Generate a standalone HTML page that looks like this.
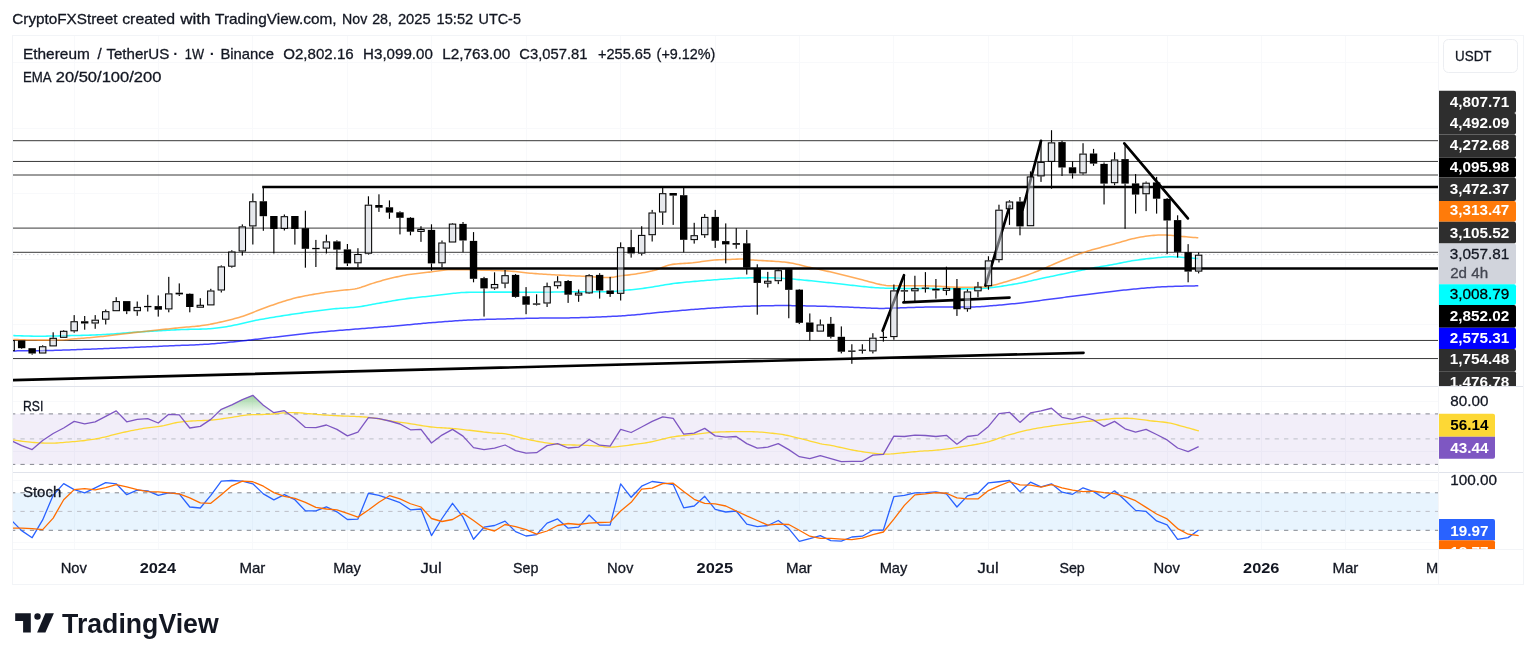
<!DOCTYPE html>
<html lang="en">
<head>
<meta charset="utf-8">
<title>ETHUSDT 1W chart</title>
<style>
html,body{margin:0;padding:0;background:#fff;}
body{width:1536px;height:662px;overflow:hidden;font-family:"Liberation Sans",sans-serif;}
svg{display:block;}
text{white-space:pre;}
</style>
</head>
<body>
<svg width="1536" height="662" viewBox="0 0 1536 662" font-family='"Liberation Sans", sans-serif'>
<defs>
<clipPath id="cm"><rect x="13" y="36" width="1425" height="350.5"/></clipPath>
<clipPath id="cr"><rect x="13" y="386.5" width="1425" height="86"/></clipPath>
<clipPath id="cs"><rect x="13" y="472.5" width="1425" height="76.5"/></clipPath>
<clipPath id="ca1"><rect x="1438" y="36" width="85" height="350.5"/></clipPath>
<clipPath id="ca3"><rect x="1438" y="472.5" width="85" height="76.5"/></clipPath>
<clipPath id="ct"><rect x="13" y="549" width="1425" height="35"/></clipPath>
<linearGradient id="gg" x1="0" y1="0" x2="0" y2="1"><stop offset="0" stop-color="#4caf50" stop-opacity="0.55"/><stop offset="1" stop-color="#4caf50" stop-opacity="0.04"/></linearGradient>
</defs>
<rect width="1536" height="662" fill="#ffffff"/>
<g id="header">
<text x="12.3" y="24.4" font-size="15" stroke="#131722" stroke-width="0.3" fill="#131722" textLength="105.2" lengthAdjust="spacingAndGlyphs">CryptoFXStreet</text>
<text x="122.2" y="24.4" font-size="15" stroke="#131722" stroke-width="0.3" fill="#131722" textLength="52.9" lengthAdjust="spacingAndGlyphs">created</text>
<text x="180.2" y="24.4" font-size="15" stroke="#131722" stroke-width="0.3" fill="#131722" textLength="30.4" lengthAdjust="spacingAndGlyphs">with</text>
<text x="215.1" y="24.4" font-size="15" stroke="#131722" stroke-width="0.3" fill="#131722" textLength="121.5" lengthAdjust="spacingAndGlyphs">TradingView.com,</text>
<text x="342.1" y="24.4" font-size="15" stroke="#131722" stroke-width="0.3" fill="#131722" textLength="25.2" lengthAdjust="spacingAndGlyphs">Nov</text>
<text x="372.2" y="24.4" font-size="15" stroke="#131722" stroke-width="0.3" fill="#131722" textLength="19.8" lengthAdjust="spacingAndGlyphs">28,</text>
<text x="397.9" y="24.4" font-size="15" stroke="#131722" stroke-width="0.3" fill="#131722" textLength="32.8" lengthAdjust="spacingAndGlyphs">2025</text>
<text x="436.6" y="24.4" font-size="15" stroke="#131722" stroke-width="0.3" fill="#131722" textLength="36.6" lengthAdjust="spacingAndGlyphs">15:52</text>
<text x="478.5" y="24.4" font-size="15" stroke="#131722" stroke-width="0.3" fill="#131722" textLength="42.4" lengthAdjust="spacingAndGlyphs">UTC-5</text>
</g>
<g id="grid" shape-rendering="crispEdges">
<rect x="74" y="36" width="1" height="513" fill="#f8f9fb"/>
<rect x="158" y="36" width="1" height="513" fill="#f8f9fb"/>
<rect x="252" y="36" width="1" height="513" fill="#f8f9fb"/>
<rect x="347" y="36" width="1" height="513" fill="#f8f9fb"/>
<rect x="431" y="36" width="1" height="513" fill="#f8f9fb"/>
<rect x="526" y="36" width="1" height="513" fill="#f8f9fb"/>
<rect x="620" y="36" width="1" height="513" fill="#f8f9fb"/>
<rect x="715" y="36" width="1" height="513" fill="#f8f9fb"/>
<rect x="799" y="36" width="1" height="513" fill="#f8f9fb"/>
<rect x="893" y="36" width="1" height="513" fill="#f8f9fb"/>
<rect x="988" y="36" width="1" height="513" fill="#f8f9fb"/>
<rect x="1072" y="36" width="1" height="513" fill="#f8f9fb"/>
<rect x="1167" y="36" width="1" height="513" fill="#f8f9fb"/>
<rect x="1261" y="36" width="1" height="513" fill="#f8f9fb"/>
<rect x="1345" y="36" width="1" height="513" fill="#f8f9fb"/>
<rect x="13" y="62" width="1425" height="1" fill="#f8f9fb"/>
<rect x="13" y="128" width="1425" height="1" fill="#f8f9fb"/>
<rect x="13" y="193" width="1425" height="1" fill="#f8f9fb"/>
<rect x="13" y="259" width="1425" height="1" fill="#f8f9fb"/>
<rect x="13" y="324" width="1425" height="1" fill="#f8f9fb"/>
<rect x="13" y="401" width="1425" height="1" fill="#f8f9fb"/>
<rect x="13" y="451" width="1425" height="1" fill="#f8f9fb"/>
<rect x="13" y="480" width="1425" height="1" fill="#f8f9fb"/>
<rect x="13" y="542" width="1425" height="1" fill="#f8f9fb"/>
</g>
<g id="rsi" clip-path="url(#cr)">
<rect x="13" y="413.9" width="1425" height="50.5" fill="#7e57c2" fill-opacity="0.1"/>
<line x1="11" y1="413.9" x2="1438" y2="413.9" stroke="#83868f" stroke-width="1" stroke-dasharray="4.3 5.13"/>
<line x1="11" y1="438.9" x2="1438" y2="438.9" stroke="#bcbfc7" stroke-width="1" stroke-dasharray="4.3 5.13"/>
<line x1="11" y1="464.4" x2="1438" y2="464.4" stroke="#83868f" stroke-width="1" stroke-dasharray="4.3 5.13"/>
<polygon points="200.29,413.9 200.29,413.9 210.8,413.9 221.31,409.3 231.82,404.8 242.33,399.6 252.84,395.3 263.35,405.2 273.85,412.7 284.36,410.7 284.36,413.9" fill="url(#gg)"/>
<polyline points="13.1,439.9 14.41,440.09 16.12,440.34 18.16,440.65 20.44,440.99 22.87,441.33 25.39,441.66 27.89,441.96 30.3,442.2 32.22,442.36 34.21,442.52 36.27,442.66 38.36,442.79 40.47,442.91 42.57,443.01 44.65,443.09 46.67,443.15 48.63,443.19 50.5,443.2 52.69,443.18 54.76,443.11 56.75,443 58.68,442.87 60.59,442.71 62.52,442.55 64.52,442.37 66.6,442.2 68.54,442.05 70.54,441.89 72.59,441.72 74.66,441.54 76.74,441.36 78.81,441.16 80.86,440.95 82.86,440.73 84.8,440.5 86.88,440.23 88.88,439.97 90.81,439.7 92.72,439.41 94.65,439.09 96.64,438.74 98.71,438.35 100.9,437.9 102.75,437.49 104.68,437.04 106.66,436.55 108.68,436.03 110.74,435.49 112.82,434.95 114.91,434.41 116.99,433.88 119.06,433.37 121.1,432.9 123.12,432.45 125.14,432 127.16,431.56 129.18,431.13 131.2,430.71 133.22,430.3 135.24,429.91 137.26,429.52 139.28,429.15 141.3,428.8 143.34,428.47 145.41,428.17 147.49,427.89 149.58,427.62 151.66,427.37 153.72,427.12 155.74,426.86 157.72,426.59 159.65,426.31 161.5,426 163.72,425.57 165.86,425.1 167.93,424.61 169.93,424.11 171.89,423.62 173.81,423.16 175.71,422.75 177.6,422.4 179.67,422.08 181.6,421.83 183.46,421.63 185.34,421.46 187.29,421.31 189.38,421.16 191.7,421 193.47,420.89 195.35,420.8 197.31,420.72 199.34,420.65 201.42,420.58 203.53,420.5 205.65,420.41 207.76,420.3 209.85,420.17 211.9,420 213.94,419.8 216.01,419.56 218.09,419.31 220.18,419.03 222.26,418.74 224.32,418.44 226.34,418.14 228.32,417.85 230.25,417.57 232.1,417.3 234.28,416.97 236.32,416.64 238.26,416.3 240.15,415.97 242.04,415.65 243.98,415.37 246.02,415.11 248.2,414.9 250.06,414.77 252.01,414.68 254.02,414.62 256.08,414.58 258.17,414.55 260.27,414.53 262.36,414.5 264.42,414.46 266.44,414.39 268.4,414.3 270.54,414.16 272.67,413.98 274.79,413.77 276.89,413.56 278.95,413.34 280.96,413.14 282.92,412.95 284.8,412.8 286.6,412.7 289.03,412.61 291.17,412.57 293.18,412.59 295.21,412.65 297.43,412.75 300,412.9 301.74,413.02 303.6,413.17 305.56,413.34 307.59,413.53 309.67,413.74 311.79,413.95 313.93,414.15 316.05,414.35 318.15,414.54 320.2,414.7 322.18,414.84 324.11,414.98 326.01,415.1 327.9,415.21 329.8,415.32 331.74,415.43 333.75,415.54 335.85,415.66 338.06,415.77 340.4,415.9 342.18,415.99 344.06,416.07 346.02,416.15 348.05,416.22 350.13,416.29 352.24,416.37 354.38,416.44 356.51,416.53 358.64,416.62 360.75,416.73 362.81,416.84 364.82,416.98 366.75,417.13 368.6,417.3 370.85,417.55 373.03,417.84 375.14,418.17 377.2,418.51 379.21,418.88 381.18,419.25 383.13,419.62 385.05,419.99 386.97,420.35 388.88,420.69 390.8,421 392.9,421.31 394.97,421.61 397.01,421.89 399.02,422.17 401.02,422.43 403.02,422.69 405,422.96 406.99,423.23 408.99,423.51 411,423.8 413.02,424.11 415.04,424.44 417.06,424.79 419.08,425.14 421.1,425.49 423.12,425.83 425.14,426.16 427.16,426.47 429.18,426.75 431.2,427 433.22,427.21 435.24,427.38 437.26,427.53 439.28,427.66 441.31,427.77 443.33,427.88 445.35,427.99 447.37,428.1 449.38,428.24 451.4,428.4 453.41,428.58 455.42,428.77 457.43,428.97 459.44,429.18 461.45,429.39 463.46,429.6 465.47,429.83 467.48,430.05 469.49,430.27 471.5,430.5 473.54,430.73 475.63,430.98 477.74,431.24 479.86,431.51 481.97,431.77 484.05,432.03 486.08,432.27 488.04,432.5 489.92,432.72 491.7,432.9 494.03,433.09 496.14,433.19 498.11,433.26 500,433.32 501.88,433.42 503.82,433.6 505.9,433.9 507.79,434.27 509.7,434.73 511.62,435.25 513.58,435.81 515.58,436.39 517.64,436.98 519.78,437.56 522,438.1 523.85,438.52 525.78,438.95 527.76,439.39 529.78,439.83 531.84,440.26 533.92,440.69 536.01,441.1 538.09,441.49 540.16,441.86 542.2,442.2 544.22,442.52 546.24,442.82 548.26,443.1 550.28,443.37 552.31,443.62 554.33,443.85 556.35,444.07 558.37,444.26 560.38,444.44 562.4,444.6 564.43,444.73 566.47,444.83 568.52,444.9 570.57,444.95 572.62,444.99 574.65,445.02 576.66,445.05 578.65,445.08 580.6,445.13 582.5,445.2 584.86,445.31 587.23,445.42 589.58,445.55 591.88,445.68 594.09,445.81 596.21,445.94 598.18,446.07 600,446.2 602.33,446.45 604.09,446.75 605.69,447.03 607.55,447.2 610.1,447.2 611.71,447.11 613.49,446.98 615.42,446.8 617.45,446.59 619.57,446.35 621.74,446.09 623.92,445.82 626.1,445.54 628.23,445.27 630.3,445 632.31,444.74 634.31,444.48 636.3,444.22 638.28,443.96 640.27,443.68 642.28,443.39 644.29,443.08 646.33,442.75 648.4,442.39 650.5,442 652.46,441.6 654.47,441.16 656.52,440.68 658.6,440.17 660.69,439.65 662.77,439.13 664.85,438.61 666.89,438.12 668.89,437.67 670.83,437.26 672.7,436.9 674.88,436.54 676.96,436.25 678.96,436.02 680.91,435.82 682.84,435.65 684.76,435.48 686.72,435.31 688.72,435.12 690.8,434.9 692.73,434.67 694.71,434.42 696.71,434.16 698.73,433.89 700.77,433.62 702.82,433.36 704.87,433.11 706.93,432.88 708.97,432.68 711,432.5 712.99,432.35 714.94,432.22 716.87,432.11 718.79,432.02 720.73,431.94 722.69,431.87 724.7,431.82 726.78,431.77 728.94,431.73 731.2,431.7 733.04,431.68 734.96,431.66 736.96,431.64 739.02,431.63 741.11,431.62 743.23,431.62 745.37,431.63 747.49,431.65 749.58,431.67 751.64,431.71 753.64,431.76 755.56,431.82 757.4,431.9 759.71,432.03 761.99,432.19 764.22,432.38 766.4,432.59 768.51,432.81 770.54,433.04 772.47,433.27 774.3,433.5 776.02,433.71 777.6,433.9 780.2,434.22 782.18,434.48 783.86,434.75 785.59,435.07 787.7,435.5 789.47,435.88 791.32,436.3 793.25,436.76 795.26,437.26 797.36,437.78 799.54,438.33 801.8,438.9 803.68,439.38 805.69,439.91 807.79,440.47 809.94,441.05 812.1,441.62 814.23,442.19 816.29,442.71 818.22,443.19 820,443.6 822.28,444.06 824.19,444.38 825.92,444.62 827.69,444.86 829.69,445.16 832.1,445.6 833.79,445.95 835.62,446.35 837.56,446.78 839.6,447.25 841.69,447.73 843.83,448.22 845.98,448.7 848.13,449.16 850.24,449.6 852.3,450 854.35,450.37 856.44,450.74 858.55,451.09 860.67,451.43 862.78,451.76 864.86,452.07 866.89,452.37 868.85,452.64 870.73,452.88 872.5,453.1 874.84,453.37 876.99,453.6 879.01,453.78 880.93,453.92 882.8,454.02 884.68,454.08 886.6,454.1 888.8,454.06 890.87,453.95 892.92,453.78 895.06,453.57 897.38,453.34 900,453.1 901.76,452.94 903.67,452.76 905.69,452.57 907.79,452.36 909.93,452.15 912.09,451.94 914.23,451.73 916.31,451.54 918.32,451.36 920.2,451.2 922.35,451.05 924.32,450.94 926.18,450.86 928,450.78 929.85,450.7 931.8,450.58 933.93,450.42 936.3,450.2 938.03,450.02 939.84,449.81 941.73,449.59 943.69,449.36 945.7,449.1 947.76,448.84 949.86,448.56 951.98,448.27 954.11,447.96 956.25,447.65 958.38,447.33 960.5,447 962.47,446.69 964.49,446.37 966.55,446.04 968.64,445.7 970.74,445.36 972.85,445 974.95,444.63 977.03,444.26 979.09,443.87 981.1,443.47 983.07,443.06 984.97,442.64 986.8,442.2 989.06,441.6 991.2,440.97 993.25,440.3 995.22,439.61 997.16,438.91 999.07,438.2 1000.99,437.5 1002.93,436.81 1004.93,436.14 1007,435.5 1008.94,434.94 1010.91,434.38 1012.91,433.82 1014.93,433.27 1016.96,432.73 1019,432.21 1021.04,431.69 1023.09,431.19 1025.14,430.71 1027.17,430.24 1029.2,429.8 1031.23,429.38 1033.26,428.98 1035.31,428.59 1037.36,428.23 1039.41,427.88 1041.45,427.54 1043.48,427.21 1045.5,426.9 1047.49,426.59 1049.46,426.29 1051.4,426 1053.49,425.69 1055.55,425.4 1057.58,425.13 1059.59,424.86 1061.58,424.61 1063.55,424.37 1065.53,424.13 1067.51,423.89 1069.5,423.65 1071.5,423.4 1073.52,423.15 1075.53,422.91 1077.55,422.66 1079.57,422.42 1081.59,422.18 1083.62,421.94 1085.64,421.71 1087.66,421.47 1089.68,421.24 1091.7,421 1093.77,420.76 1095.9,420.5 1098.08,420.24 1100.26,419.98 1102.43,419.72 1104.55,419.48 1106.58,419.25 1108.51,419.04 1110.29,418.85 1111.9,418.7 1114.57,418.49 1116.67,418.37 1118.44,418.33 1120.14,418.31 1122,418.3 1123.86,418.26 1125.56,418.23 1127.33,418.23 1129.43,418.3 1132.1,418.5 1133.73,418.66 1135.56,418.86 1137.55,419.1 1139.65,419.37 1141.82,419.65 1144.03,419.94 1146.22,420.23 1148.36,420.51 1150.4,420.77 1152.3,421 1154.52,421.25 1156.66,421.46 1158.73,421.65 1160.73,421.83 1162.69,422.02 1164.61,422.24 1166.51,422.49 1168.4,422.8 1170.5,423.21 1172.51,423.67 1174.46,424.17 1176.4,424.7 1178.36,425.25 1180.38,425.82 1182.5,426.4 1184.55,426.95 1186.82,427.57 1189.2,428.22 1191.58,428.87 1193.85,429.5 1195.9,430.07 1197.62,430.55 1198.9,430.9" fill="none" stroke="#fdd835" stroke-width="1.3" stroke-linejoin="round"/>
<polyline points="11.13,440.5 21.64,445.6 32.15,449.6 42.66,440.5 53.17,433.5 63.68,428 74.18,421.4 84.69,423.8 95.2,421.8 105.71,416.3 116.22,410.9 126.73,421.8 137.24,419.4 147.75,418.7 158.26,423 168.76,414.3 179.27,414.9 189.78,428 200.29,426.4 210.8,419.4 221.31,409.3 231.82,404.8 242.33,399.6 252.84,395.3 263.35,405.2 273.85,412.7 284.36,410.7 294.87,418.3 305.38,427.4 315.89,427.6 326.4,425 336.91,429.4 347.42,435.9 357.93,432.1 368.43,417.7 378.94,418.7 389.45,421 399.96,424 410.47,429.8 420.98,429.4 431.49,443 442,435.1 452.51,429.4 463.01,436.1 473.52,447.6 484.03,449.6 494.54,448.2 505.05,445 515.56,450.6 526.07,453.1 536.58,452.7 547.09,445.6 557.59,443.6 568.1,448 578.61,447.2 589.12,439.5 599.63,445.2 610.14,446.2 620.65,429.4 631.16,432.5 641.67,427 652.17,421.4 662.68,416.9 673.19,418.3 683.7,434.1 694.21,433.1 704.72,428.4 715.23,435.9 725.74,437.1 736.25,436.5 746.75,443.6 757.26,448.2 767.77,447.2 778.28,443.6 788.79,449.6 799.3,456.7 809.81,458.7 820.32,455.7 830.83,458.7 841.33,461.7 851.84,461.3 862.35,461.3 872.86,455.1 883.37,454.3 893.88,436.1 904.39,436.5 914.9,435.1 925.41,435.5 935.91,436.5 946.42,435.3 956.93,444.2 967.44,436.5 977.95,435.1 988.46,426.4 998.97,413.7 1009.48,412.3 1019.99,422.4 1030.49,412.9 1041,410.9 1051.51,408.25 1062.02,417.3 1072.53,419.4 1083.04,416.3 1093.55,420 1104.06,426.4 1114.57,421.4 1125.07,428.8 1135.58,432.1 1146.09,429.4 1156.6,434.5 1167.11,439.9 1177.62,448 1188.13,451.6 1198.64,446.6" fill="none" stroke="#7e57c2" stroke-width="1.3" stroke-linejoin="round"/>
</g>
<g id="stoch" clip-path="url(#cs)">
<rect x="13" y="492.8" width="1425" height="37.5" fill="#2196f3" fill-opacity="0.1"/>
<line x1="11" y1="492.8" x2="1438" y2="492.8" stroke="#83868f" stroke-width="1" stroke-dasharray="4.3 5.13"/>
<line x1="11" y1="511.4" x2="1438" y2="511.4" stroke="#bcbfc7" stroke-width="1" stroke-dasharray="4.3 5.13"/>
<line x1="11" y1="530.3" x2="1438" y2="530.3" stroke="#83868f" stroke-width="1" stroke-dasharray="4.3 5.13"/>
<polyline points="11.13,519.9 21.64,530.6 32.15,537.7 42.66,519.9 53.17,495.3 63.68,483.6 74.18,489.6 84.69,492.85 95.2,487.8 105.71,482.6 116.22,483.8 126.73,494.7 137.24,490.2 147.75,490.8 158.26,495.3 168.76,492.85 179.27,493.9 189.78,507 200.29,508 210.8,495.3 221.31,481.1 231.82,480.5 242.33,481.1 252.84,483.8 263.35,493.9 273.85,499.9 284.36,494.7 294.87,499.7 305.38,510.8 315.89,510.8 326.4,506.8 336.91,511.8 347.42,519.5 357.93,519.1 368.43,493.25 378.94,495.3 389.45,498.9 399.96,502.7 410.47,509.8 420.98,509 431.49,535.6 442,518.5 452.51,503.3 463.01,517.1 473.52,539.3 484.03,527.2 494.54,525.5 505.05,521.1 515.56,531.6 526.07,536 536.58,534.6 547.09,523.1 557.59,518.9 568.1,528.2 578.61,527.2 589.12,515 599.63,525.1 610.14,525.1 620.65,483.8 631.16,497.3 641.67,486.2 652.17,481.5 662.68,482.8 673.19,484.6 683.7,507.8 694.21,506 704.72,496.3 715.23,509.4 725.74,512 736.25,511 746.75,524.1 757.26,526.55 767.77,525.5 778.28,520.5 788.79,528.6 799.3,541.3 809.81,538.7 820.32,535.6 830.83,540.7 841.33,541.1 851.84,537 862.35,536.2 872.86,530.2 883.37,530 893.88,496.7 904.39,495.3 914.9,492.85 925.41,492.6 935.91,491.8 946.42,493.9 956.93,507 967.44,495.9 977.95,493.25 988.46,482.8 998.97,481.75 1009.48,480.5 1019.99,491.8 1030.49,482.15 1041,486.8 1051.51,483.8 1062.02,492.2 1072.53,494.3 1083.04,487.8 1093.55,491.6 1104.06,498.3 1114.57,490.8 1125.07,500.3 1135.58,510.4 1146.09,511.4 1156.6,520.9 1167.11,524.9 1177.62,539.3 1188.13,537.65 1198.64,530" fill="none" stroke="#2962ff" stroke-width="1.3" stroke-linejoin="round"/>
<polyline points="11.13,528 21.64,528.2 32.15,528.6 42.66,529.6 53.17,518.1 63.68,499.7 74.18,489.6 84.69,488.6 95.2,489.8 105.71,487.6 116.22,484.6 126.73,486.8 137.24,489.6 147.75,491.6 158.26,491.8 168.76,492.85 179.27,493.9 189.78,497.9 200.29,502.9 210.8,503.3 221.31,494.7 231.82,485.8 242.33,481.1 252.84,481.75 263.35,486.2 273.85,492.6 284.36,496.3 294.87,498.3 305.38,502.3 315.89,507.4 326.4,509 336.91,509.8 347.42,513.4 357.93,517.1 368.43,510 378.94,502.3 389.45,495.7 399.96,498.9 410.47,503.75 420.98,507 431.49,518.5 442,521.5 452.51,519.5 463.01,513.4 473.52,520.5 484.03,528.2 494.54,531 505.05,524.5 515.56,526.55 526.07,529.6 536.58,534.2 547.09,531 557.59,525.5 568.1,523.5 578.61,524.5 589.12,523.1 599.63,522.5 610.14,522.1 620.65,511 631.16,502.3 641.67,489.2 652.17,488.2 662.68,483.6 673.19,483.2 683.7,491.6 694.21,499.3 704.72,503.3 715.23,503.95 725.74,506 736.25,511 746.75,515.9 757.26,520.5 767.77,525.1 778.28,524.1 788.79,524.5 799.3,530.2 809.81,536.2 820.32,538.3 830.83,538.3 841.33,539.1 851.84,539.7 862.35,538.1 872.86,534.6 883.37,532 893.88,519.1 904.39,505.4 914.9,494.9 925.41,493.9 935.91,492.6 946.42,493.25 956.93,497.9 967.44,498.9 977.95,498.9 988.46,490.6 998.97,485.8 1009.48,481.75 1019.99,484.8 1030.49,485.2 1041,487.2 1051.51,484.6 1062.02,487.8 1072.53,490.2 1083.04,491.6 1093.55,491.2 1104.06,492.6 1114.57,493.7 1125.07,496.7 1135.58,500.7 1146.09,507.4 1156.6,514 1167.11,518.9 1177.62,528.6 1188.13,534.2 1198.64,535.6" fill="none" stroke="#ff6d00" stroke-width="1.3" stroke-linejoin="round"/>
</g>
<g id="main" clip-path="url(#cm)">
<line x1="13" y1="254.6" x2="1438" y2="254.6" stroke="#d4d6dc" stroke-width="1" stroke-dasharray="1.5 2.5"/>
<line x1="13" y1="140.7" x2="1438" y2="140.7" stroke="#000" stroke-opacity="0.78" stroke-width="1"/>
<line x1="13" y1="161.45" x2="1438" y2="161.45" stroke="#000" stroke-opacity="0.78" stroke-width="1"/>
<line x1="13" y1="175" x2="1438" y2="175" stroke="#000" stroke-opacity="0.78" stroke-width="1"/>
<line x1="13" y1="228.1" x2="1438" y2="228.1" stroke="#000" stroke-opacity="0.78" stroke-width="1"/>
<line x1="13" y1="252.3" x2="1438" y2="252.3" stroke="#000" stroke-opacity="0.78" stroke-width="1"/>
<line x1="13" y1="340.45" x2="1438" y2="340.45" stroke="#000" stroke-opacity="0.78" stroke-width="1"/>
<line x1="13" y1="358.55" x2="1438" y2="358.55" stroke="#000" stroke-opacity="0.78" stroke-width="1"/>
<polyline points="13.3,350.9 14.46,350.89 15.84,350.88 17.42,350.86 19.17,350.85 21.08,350.84 23.13,350.82 25.29,350.81 27.55,350.79 29.89,350.77 32.28,350.75 34.72,350.72 37.17,350.7 39.62,350.66 42.04,350.63 44.43,350.59 46.76,350.55 49,350.5 50.97,350.45 52.97,350.4 54.97,350.35 56.99,350.29 59.03,350.23 61.07,350.16 63.13,350.1 65.19,350.03 67.26,349.96 69.33,349.88 71.41,349.81 73.49,349.73 75.57,349.66 77.65,349.58 79.73,349.5 81.81,349.43 83.88,349.35 85.94,349.27 88,349.2 90.05,349.13 92.11,349.05 94.16,348.98 96.21,348.9 98.26,348.82 100.32,348.75 102.37,348.67 104.42,348.59 106.47,348.51 108.53,348.44 110.58,348.36 112.63,348.28 114.68,348.2 116.74,348.11 118.79,348.03 120.84,347.95 122.89,347.87 124.95,347.78 127,347.7 129.05,347.62 131.08,347.53 133.11,347.45 135.12,347.36 137.14,347.27 139.15,347.19 141.15,347.1 143.16,347.01 145.18,346.93 147.2,346.84 149.23,346.75 151.26,346.66 153.31,346.57 155.38,346.47 157.46,346.38 159.56,346.29 161.68,346.19 163.83,346.1 166,346 167.9,345.92 169.83,345.84 171.79,345.76 173.76,345.68 175.76,345.6 177.77,345.53 179.8,345.45 181.84,345.37 183.89,345.3 185.94,345.22 188,345.14 190.06,345.05 192.11,344.97 194.16,344.88 196.2,344.79 198.23,344.69 200.24,344.59 202.24,344.48 204.21,344.37 206.17,344.25 208.1,344.13 210,344 212.13,343.84 214.17,343.69 216.13,343.53 218.03,343.37 219.88,343.21 221.7,343.04 223.49,342.87 225.29,342.69 227.09,342.5 228.92,342.31 230.79,342.11 232.71,341.9 234.71,341.68 236.79,341.45 238.97,341.2 241.27,340.95 243.7,340.68 246.27,340.4 249,340.1 250.59,339.93 252.23,339.74 253.9,339.56 255.61,339.36 257.36,339.16 259.14,338.95 260.95,338.74 262.8,338.52 264.67,338.3 266.58,338.07 268.51,337.84 270.47,337.61 272.45,337.37 274.45,337.14 276.47,336.89 278.52,336.65 280.58,336.41 282.66,336.16 284.75,335.91 286.86,335.67 288.98,335.42 291.11,335.17 293.26,334.93 295.4,334.69 297.56,334.44 299.72,334.2 301.88,333.96 304.05,333.73 306.21,333.5 308.38,333.27 310.54,333.05 312.7,332.83 314.85,332.61 317,332.4 318.94,332.21 320.91,332.03 322.93,331.84 324.98,331.66 327.05,331.47 329.16,331.28 331.29,331.1 333.45,330.91 335.62,330.73 337.81,330.54 340.02,330.36 342.23,330.18 344.46,329.99 346.69,329.81 348.92,329.63 351.16,329.45 353.39,329.28 355.61,329.1 357.83,328.93 360.04,328.75 362.23,328.58 364.41,328.41 366.56,328.24 368.7,328.07 370.81,327.91 372.89,327.75 374.94,327.59 376.96,327.43 378.95,327.27 380.89,327.12 382.79,326.97 384.65,326.82 386.46,326.68 388.22,326.54 389.92,326.4 391.58,326.26 393.17,326.13 394.7,326 397.74,325.74 400.54,325.49 403.11,325.26 405.5,325.05 407.71,324.84 409.77,324.65 411.7,324.46 413.52,324.29 415.27,324.12 416.95,323.96 418.6,323.8 420.23,323.64 421.87,323.49 423.55,323.33 425.27,323.18 427.08,323.02 428.98,322.86 431,322.7 432.99,322.54 434.99,322.38 437.01,322.22 439.03,322.07 441.07,321.91 443.12,321.75 445.17,321.6 447.23,321.44 449.3,321.29 451.37,321.15 453.44,321 455.52,320.86 457.59,320.72 459.67,320.59 461.74,320.46 463.81,320.34 465.88,320.22 467.94,320.11 470,320 472.06,319.9 474.14,319.81 476.24,319.72 478.35,319.64 480.47,319.56 482.59,319.49 484.71,319.43 486.83,319.36 488.95,319.3 491.05,319.25 493.14,319.19 495.22,319.14 497.28,319.09 499.31,319.04 501.31,318.99 503.29,318.95 505.23,318.9 507.14,318.85 509,318.8 511.3,318.74 513.55,318.68 515.74,318.62 517.89,318.56 520,318.51 522.07,318.46 524.11,318.41 526.13,318.36 528.13,318.32 530.11,318.28 532.09,318.24 534.06,318.2 536.03,318.16 538.01,318.13 540,318.1 542.11,318.07 544.16,318.05 546.17,318.04 548.14,318.04 550.09,318.04 552.04,318.04 554,318.04 555.98,318.04 557.99,318.03 560.04,318.02 562.16,318.01 564.35,317.98 566.63,317.95 569,317.9 570.83,317.86 572.75,317.81 574.73,317.76 576.78,317.71 578.88,317.65 581.02,317.58 583.19,317.52 585.38,317.45 587.59,317.38 589.79,317.31 591.98,317.23 594.16,317.16 596.3,317.08 598.41,317 600.47,316.92 602.46,316.84 604.39,316.76 606.24,316.68 608,316.6 610.43,316.48 612.71,316.37 614.88,316.25 616.95,316.14 618.94,316.02 620.86,315.89 622.73,315.77 624.58,315.64 626.41,315.5 628.25,315.36 630.12,315.22 632.03,315.06 634,314.9 635.97,314.73 637.89,314.56 639.77,314.38 641.62,314.19 643.48,314 645.34,313.8 647.23,313.6 649.17,313.39 651.18,313.18 653.27,312.97 655.46,312.75 657.76,312.53 660.2,312.3 661.96,312.14 663.81,311.98 665.74,311.8 667.73,311.63 669.78,311.45 671.88,311.27 674.02,311.08 676.18,310.89 678.37,310.71 680.57,310.52 682.77,310.33 684.96,310.15 687.13,309.97 689.28,309.79 691.39,309.62 693.46,309.46 695.47,309.3 697.42,309.14 699.3,309 701.6,308.83 703.85,308.66 706.05,308.5 708.21,308.35 710.33,308.2 712.41,308.06 714.46,307.92 716.47,307.79 718.46,307.67 720.43,307.54 722.37,307.43 724.3,307.32 726.21,307.21 728.11,307.1 730,307 732.14,306.89 734.19,306.79 736.19,306.69 738.13,306.6 740.04,306.52 741.94,306.44 743.83,306.36 745.73,306.3 747.67,306.23 749.65,306.17 751.68,306.11 753.8,306.05 756,306 757.83,305.96 759.67,305.91 761.52,305.87 763.39,305.82 765.27,305.78 767.18,305.74 769.12,305.71 771.09,305.68 773.1,305.65 775.15,305.62 777.25,305.6 779.4,305.59 781.6,305.58 783.87,305.58 786.2,305.59 788.6,305.6 790.4,305.62 792.27,305.64 794.19,305.66 796.16,305.69 798.18,305.72 800.23,305.76 802.32,305.79 804.44,305.84 806.57,305.88 808.73,305.93 810.9,305.98 813.08,306.03 815.25,306.08 817.42,306.13 819.59,306.19 821.73,306.25 823.86,306.3 825.96,306.36 828.03,306.42 830.07,306.48 832.06,306.54 834,306.6 836.24,306.67 838.51,306.75 840.81,306.83 843.12,306.92 845.43,307.01 847.74,307.11 850.04,307.21 852.31,307.3 854.55,307.4 856.74,307.5 858.88,307.59 860.96,307.69 862.97,307.78 864.9,307.86 866.74,307.94 868.48,308.02 870.11,308.09 871.62,308.15 873,308.2 876.93,308.34 879.22,308.41 880.66,308.44 881.99,308.43 884,308.4 885.79,308.37 887.53,308.32 889.31,308.26 891.24,308.18 893.43,308.09 895.98,308 899,307.9 900.59,307.85 902.27,307.79 904.05,307.73 905.91,307.67 907.85,307.6 909.86,307.53 911.94,307.45 914.07,307.38 916.26,307.31 918.48,307.25 920.74,307.19 923.03,307.13 925.34,307.08 927.67,307.03 930,307 931.89,306.98 933.86,306.97 935.91,306.96 938.03,306.96 940.19,306.96 942.39,306.97 944.61,306.98 946.85,306.99 949.09,307 951.33,307.01 953.54,307.02 955.71,307.03 957.85,307.04 959.92,307.05 961.92,307.05 963.84,307.05 965.67,307.04 967.4,307.02 969,307 971.96,306.94 974.41,306.89 976.5,306.82 978.34,306.74 980.08,306.64 981.84,306.53 983.76,306.38 985.97,306.21 988.6,306 990.26,305.87 991.99,305.73 993.79,305.58 995.65,305.42 997.56,305.25 999.52,305.07 1001.53,304.89 1003.59,304.7 1005.68,304.5 1007.8,304.29 1009.96,304.08 1012.14,303.86 1014.33,303.63 1016.55,303.39 1018.77,303.15 1021,302.9 1022.9,302.68 1024.83,302.45 1026.79,302.22 1028.78,301.97 1030.79,301.72 1032.83,301.46 1034.88,301.19 1036.96,300.92 1039.04,300.65 1041.14,300.37 1043.24,300.1 1045.35,299.82 1047.46,299.54 1049.57,299.26 1051.67,298.98 1053.77,298.7 1055.86,298.43 1057.94,298.16 1060,297.9 1062.06,297.64 1064.14,297.37 1066.24,297.11 1068.35,296.84 1070.47,296.57 1072.59,296.3 1074.71,296.03 1076.83,295.76 1078.95,295.49 1081.05,295.22 1083.14,294.96 1085.22,294.7 1087.28,294.44 1089.31,294.19 1091.31,293.94 1093.29,293.69 1095.23,293.46 1097.14,293.22 1099,293 1101.3,292.72 1103.53,292.46 1105.7,292.2 1107.81,291.94 1109.89,291.7 1111.93,291.46 1113.94,291.22 1115.93,291 1117.91,290.77 1119.89,290.55 1121.87,290.34 1123.86,290.12 1125.88,289.91 1127.92,289.71 1130,289.5 1131.96,289.31 1133.92,289.12 1135.88,288.93 1137.83,288.74 1139.78,288.56 1141.74,288.37 1143.7,288.2 1145.67,288.02 1147.65,287.85 1149.64,287.69 1151.65,287.53 1153.67,287.38 1155.72,287.24 1157.79,287.1 1159.88,286.97 1162,286.85 1163.96,286.75 1166.04,286.66 1168.22,286.57 1170.47,286.49 1172.78,286.41 1175.13,286.34 1177.48,286.28 1179.83,286.22 1182.15,286.16 1184.42,286.11 1186.62,286.06 1188.73,286.01 1190.73,285.97 1192.59,285.93 1194.3,285.9 1195.84,285.86 1197.18,285.83 1198.3,285.8" fill="none" stroke="#0000ff" stroke-opacity="0.72" stroke-width="1.5"/>
<polyline points="13.3,335.6 14.5,335.64 16,335.69 17.76,335.75 19.74,335.82 21.9,335.89 24.18,335.96 26.55,336.03 28.96,336.09 31.36,336.14 33.73,336.18 36,336.2 37.86,336.2 39.69,336.2 41.51,336.19 43.33,336.17 45.17,336.15 47.03,336.12 48.94,336.09 50.9,336.05 52.93,336.01 55.04,335.96 57.25,335.91 59.56,335.86 62,335.8 63.75,335.76 65.56,335.72 67.43,335.68 69.36,335.64 71.33,335.6 73.35,335.56 75.41,335.52 77.5,335.47 79.62,335.43 81.76,335.37 83.91,335.32 86.07,335.26 88.24,335.2 90.41,335.13 92.56,335.06 94.71,334.98 96.83,334.89 98.93,334.8 101,334.7 103.05,334.59 105.11,334.47 107.16,334.35 109.21,334.21 111.26,334.07 113.32,333.92 115.37,333.77 117.42,333.61 119.47,333.45 121.53,333.29 123.58,333.12 125.63,332.96 127.68,332.8 129.74,332.64 131.79,332.48 133.84,332.33 135.89,332.18 137.95,332.04 140,331.9 142.06,331.77 144.14,331.64 146.24,331.51 148.35,331.38 150.47,331.25 152.59,331.12 154.71,330.99 156.83,330.87 158.95,330.75 161.05,330.63 163.14,330.51 165.22,330.4 167.28,330.29 169.31,330.18 171.31,330.07 173.29,329.97 175.23,329.88 177.14,329.79 179,329.7 181.32,329.6 183.61,329.52 185.88,329.45 188.11,329.39 190.31,329.34 192.47,329.3 194.6,329.26 196.68,329.22 198.73,329.17 200.73,329.12 202.68,329.06 204.59,329 206.44,328.91 208.25,328.82 210,328.7 212.48,328.5 214.76,328.29 216.89,328.07 218.9,327.82 220.83,327.56 222.73,327.28 224.62,326.97 226.56,326.64 228.57,326.29 230.7,325.9 232.71,325.51 234.74,325.09 236.79,324.64 238.87,324.16 240.96,323.66 243.08,323.15 245.22,322.64 247.38,322.13 249.56,321.64 251.77,321.16 254,320.7 255.91,320.33 257.85,319.96 259.82,319.6 261.8,319.24 263.8,318.89 265.82,318.54 267.85,318.2 269.88,317.86 271.91,317.52 273.94,317.18 275.97,316.85 277.99,316.52 280,316.2 282,315.88 284,315.56 286,315.25 288,314.94 290,314.63 292,314.33 294,314.03 296,313.73 298,313.44 300,313.15 302,312.86 304,312.58 306,312.3 308,312.02 310.01,311.75 312.02,311.47 314.03,311.2 316.05,310.93 318.06,310.66 320.07,310.4 322.07,310.15 324.07,309.9 326.07,309.66 328.06,309.43 330.03,309.21 332,309 334.13,308.79 336.26,308.61 338.39,308.45 340.52,308.3 342.64,308.17 344.75,308.03 346.85,307.9 348.93,307.75 350.98,307.6 353.02,307.42 355.02,307.23 357,307 359.1,306.72 361.13,306.43 363.11,306.11 365.05,305.77 366.98,305.42 368.9,305.06 370.83,304.69 372.79,304.32 374.8,303.95 376.86,303.57 379,303.2 380.87,302.88 382.78,302.55 384.73,302.21 386.71,301.87 388.71,301.52 390.73,301.17 392.77,300.82 394.82,300.47 396.87,300.14 398.92,299.81 400.96,299.49 402.99,299.19 405,298.9 407,298.63 409,298.38 411,298.14 413,297.91 415,297.69 417,297.47 419,297.26 421,297.06 423,296.85 425,296.65 427,296.44 429,296.22 431,296 433.04,295.77 435.13,295.52 437.27,295.27 439.43,295.01 441.59,294.75 443.75,294.49 445.87,294.24 447.95,293.99 449.96,293.76 451.89,293.54 453.72,293.34 455.43,293.16 457,293 459.62,292.74 461.33,292.58 462.69,292.47 464.22,292.41 466.48,292.36 470,292.3 471.45,292.28 473.05,292.26 474.79,292.24 476.64,292.22 478.61,292.2 480.67,292.19 482.8,292.17 485,292.16 487.24,292.15 489.52,292.14 491.81,292.13 494.1,292.12 496.39,292.12 498.64,292.11 500.86,292.11 503.02,292.1 505.1,292.1 507.1,292.1 509,292.1 511.3,292.1 513.55,292.11 515.74,292.13 517.89,292.14 520,292.16 522.07,292.18 524.11,292.21 526.13,292.23 528.13,292.25 530.11,292.27 532.09,292.29 534.06,292.3 536.03,292.31 538.01,292.31 540,292.3 542.11,292.28 544.16,292.26 546.17,292.23 548.14,292.2 550.09,292.16 552.04,292.11 554,292.07 555.98,292.02 557.99,291.98 560.04,291.93 562.16,291.89 564.35,291.86 566.63,291.83 569,291.8 570.84,291.79 572.78,291.78 574.8,291.78 576.89,291.78 579.04,291.78 581.24,291.79 583.46,291.8 585.71,291.81 587.96,291.81 590.2,291.82 592.43,291.83 594.62,291.83 596.77,291.83 598.86,291.82 600.88,291.81 602.82,291.8 604.66,291.77 606.39,291.74 608,291.7 611.04,291.59 613.68,291.46 616,291.3 618.09,291.13 620.02,290.94 621.86,290.74 623.71,290.53 625.63,290.32 627.7,290.1 629.84,289.89 631.92,289.67 633.97,289.46 636.02,289.23 638.1,288.99 640.23,288.73 642.43,288.45 644.75,288.14 647.2,287.8 648.99,287.53 650.84,287.24 652.75,286.93 654.72,286.6 656.72,286.25 658.76,285.9 660.82,285.54 662.9,285.19 664.98,284.84 667.06,284.5 669.13,284.18 671.18,283.88 673.2,283.6 675.19,283.35 677.16,283.11 679.12,282.88 681.07,282.67 683.02,282.47 684.98,282.28 686.94,282.09 688.92,281.91 690.93,281.73 692.96,281.55 695.03,281.37 697.14,281.19 699.3,281 701.25,280.83 703.3,280.67 705.43,280.5 707.62,280.32 709.85,280.15 712.1,279.98 714.35,279.81 716.58,279.65 718.77,279.49 720.91,279.34 722.96,279.19 724.92,279.05 726.76,278.92 728.46,278.81 730,278.7 733.04,278.49 735.16,278.33 736.79,278.23 738.36,278.14 740.29,278.07 743,278 744.57,277.96 746.28,277.91 748.11,277.86 750.04,277.82 752.05,277.77 754.13,277.73 756.25,277.69 758.41,277.66 760.57,277.64 762.73,277.63 764.87,277.64 766.96,277.66 769,277.7 770.96,277.75 772.87,277.82 774.73,277.89 776.57,277.98 778.41,278.07 780.25,278.18 782.13,278.3 784.05,278.43 786.04,278.58 788.11,278.73 790.28,278.91 792.57,279.1 795,279.3 796.76,279.45 798.62,279.62 800.57,279.8 802.59,279.99 804.67,280.18 806.8,280.39 808.97,280.61 811.17,280.83 813.39,281.05 815.61,281.28 817.83,281.5 820.03,281.73 822.2,281.96 824.33,282.18 826.41,282.4 828.43,282.61 830.38,282.82 832.24,283.01 834,283.2 836.43,283.46 838.74,283.72 840.94,283.98 843.04,284.23 845.06,284.47 847.01,284.71 848.91,284.94 850.77,285.17 852.6,285.39 854.43,285.6 856.26,285.81 858.11,286.01 860,286.2 862.15,286.42 864.13,286.63 865.99,286.84 867.8,287.03 869.6,287.22 871.47,287.39 873.44,287.56 875.58,287.71 877.95,287.85 880.61,287.98 883.6,288.1 885.17,288.15 886.83,288.2 888.58,288.24 890.41,288.27 892.31,288.31 894.27,288.34 896.28,288.36 898.34,288.39 900.45,288.41 902.59,288.43 904.75,288.45 906.93,288.46 909.12,288.48 911.32,288.49 913.51,288.5 915.69,288.52 917.85,288.53 919.98,288.54 922.08,288.55 924.14,288.56 926.15,288.57 928.11,288.59 930,288.6 932.25,288.62 934.49,288.64 936.73,288.66 938.97,288.69 941.19,288.71 943.39,288.74 945.58,288.76 947.74,288.78 949.87,288.8 951.98,288.82 954.05,288.84 956.09,288.85 958.08,288.86 960.03,288.86 961.94,288.86 963.79,288.86 965.58,288.84 967.32,288.83 969,288.8 971.7,288.75 974.15,288.7 976.39,288.64 978.48,288.58 980.45,288.5 982.35,288.4 984.24,288.28 986.15,288.13 988.13,287.96 990.23,287.75 992.5,287.5 994.39,287.28 996.33,287.02 998.32,286.75 1000.35,286.46 1002.41,286.14 1004.5,285.81 1006.59,285.47 1008.7,285.11 1010.8,284.75 1012.89,284.38 1014.97,284.01 1017.02,283.64 1019.03,283.27 1021,282.9 1023.05,282.51 1025.01,282.12 1026.9,281.73 1028.76,281.33 1030.59,280.93 1032.42,280.52 1034.27,280.1 1036.17,279.67 1038.12,279.23 1040.16,278.78 1042.31,278.3 1044.58,277.81 1047,277.3 1048.76,276.93 1050.62,276.54 1052.57,276.14 1054.59,275.71 1056.67,275.28 1058.8,274.84 1060.97,274.38 1063.17,273.93 1065.39,273.47 1067.61,273.01 1069.83,272.55 1072.03,272.1 1074.2,271.66 1076.33,271.22 1078.41,270.8 1080.43,270.4 1082.38,270.01 1084.24,269.64 1086,269.3 1088.43,268.83 1090.74,268.4 1092.93,268 1095.02,267.63 1097.04,267.28 1098.98,266.94 1100.88,266.62 1102.74,266.31 1104.57,266 1106.4,265.69 1108.24,265.37 1110.1,265.04 1112,264.7 1114.06,264.32 1116.09,263.93 1118.09,263.53 1120.07,263.13 1122.04,262.74 1124,262.34 1125.96,261.96 1127.93,261.58 1129.91,261.21 1131.91,260.86 1133.94,260.52 1136,260.2 1137.97,259.92 1140.02,259.64 1142.13,259.37 1144.28,259.11 1146.45,258.85 1148.61,258.61 1150.76,258.38 1152.86,258.16 1154.89,257.96 1156.85,257.77 1158.7,257.59 1160.42,257.44 1162,257.3 1164.86,257.07 1167.1,256.92 1168.98,256.84 1170.76,256.81 1172.68,256.84 1175,256.9 1176.87,256.98 1178.97,257.09 1181.2,257.24 1183.5,257.42 1185.79,257.6 1187.99,257.78 1190.03,257.95 1191.82,258.09 1193.3,258.2 1196.94,258.43 1198.3,258.5" fill="none" stroke="#00ffff" stroke-opacity="0.85" stroke-width="1.55"/>
<polyline points="13.3,339.5 14.5,339.54 16,339.58 17.76,339.64 19.74,339.71 21.9,339.78 24.18,339.85 26.55,339.92 28.96,339.98 31.36,340.03 33.73,340.07 36,340.1 37.93,340.11 39.95,340.12 42.04,340.13 44.18,340.13 46.35,340.12 48.52,340.11 50.68,340.1 52.8,340.08 54.85,340.05 56.82,340.02 58.68,339.99 60.42,339.95 62,339.9 64.77,339.78 66.81,339.64 68.5,339.48 70.19,339.28 72.23,339.06 75,338.8 76.54,338.67 78.15,338.55 79.85,338.42 81.62,338.29 83.46,338.15 85.38,338 87.38,337.85 89.46,337.68 91.62,337.5 93.85,337.3 96.15,337.09 98.54,336.85 101,336.6 102.75,336.41 104.56,336.21 106.43,335.99 108.36,335.76 110.33,335.53 112.35,335.28 114.41,335.03 116.5,334.77 118.62,334.5 120.76,334.23 122.91,333.96 125.07,333.69 127.24,333.43 129.41,333.16 131.56,332.89 133.71,332.63 135.83,332.38 137.93,332.14 140,331.9 142.08,331.67 144.2,331.43 146.35,331.2 148.53,330.96 150.74,330.72 152.95,330.49 155.16,330.25 157.37,330.02 159.57,329.79 161.74,329.56 163.88,329.34 165.99,329.12 168.05,328.91 170.06,328.71 172,328.51 173.88,328.32 175.67,328.14 177.38,327.96 179,327.8 181.82,327.52 184.36,327.29 186.67,327.09 188.77,326.92 190.72,326.76 192.55,326.6 194.3,326.45 196.02,326.29 197.74,326.11 199.5,325.9 201.88,325.6 203.99,325.32 205.94,325.04 207.88,324.72 209.95,324.35 212.28,323.88 215,323.3 216.66,322.94 218.42,322.55 220.28,322.13 222.23,321.7 224.24,321.23 226.3,320.75 228.4,320.24 230.52,319.72 232.66,319.17 234.78,318.61 236.89,318.02 238.97,317.42 241,316.8 243,316.15 245,315.46 247,314.74 249,313.98 251,313.21 253,312.42 255,311.62 257,310.82 259,310.02 261,309.23 263,308.46 265,307.72 267,307 269,306.3 271,305.6 273,304.9 275,304.21 277,303.52 279,302.85 281,302.18 283,301.53 285,300.9 287,300.29 289,299.7 291,299.14 293,298.6 295.01,298.09 297.05,297.6 299.1,297.13 301.16,296.69 303.23,296.26 305.29,295.85 307.33,295.46 309.36,295.09 311.37,294.73 313.34,294.38 315.28,294.04 317.16,293.72 319,293.4 321.32,293.01 323.58,292.66 325.79,292.34 327.95,292.04 330.06,291.76 332.13,291.49 334.15,291.24 336.14,290.99 338.08,290.75 340,290.5 342.28,290.23 344.41,290.03 346.45,289.87 348.44,289.71 350.43,289.51 352.49,289.25 354.66,288.89 357,288.4 358.8,287.94 360.64,287.41 362.53,286.82 364.46,286.18 366.44,285.5 368.45,284.8 370.5,284.09 372.58,283.38 374.69,282.69 376.83,282.02 379,281.4 380.87,280.89 382.78,280.37 384.73,279.86 386.71,279.34 388.71,278.83 390.73,278.32 392.77,277.82 394.82,277.34 396.87,276.87 398.92,276.42 400.96,275.99 402.99,275.58 405,275.2 407.02,274.85 409.06,274.52 411.13,274.22 413.21,273.93 415.29,273.67 417.36,273.42 419.42,273.18 421.46,272.96 423.46,272.74 425.43,272.53 427.35,272.32 429.21,272.11 431,271.9 433.4,271.59 435.56,271.29 437.57,270.99 439.5,270.7 441.43,270.43 443.43,270.19 445.6,269.99 447.99,269.82 450.7,269.7 452.38,269.66 454.18,269.63 456.07,269.62 458.04,269.63 460.07,269.65 462.17,269.68 464.3,269.72 466.46,269.76 468.63,269.82 470.8,269.87 472.95,269.93 475.07,269.99 477.15,270.05 479.18,270.1 481.13,270.16 483,270.2 485.22,270.25 487.4,270.29 489.53,270.34 491.63,270.38 493.69,270.42 495.71,270.47 497.7,270.52 499.65,270.58 501.58,270.64 503.47,270.71 505.34,270.8 507.18,270.89 509,271 511.28,271.17 513.44,271.36 515.51,271.57 517.52,271.8 519.5,272.04 521.48,272.29 523.49,272.53 525.56,272.77 527.72,272.99 530,273.2 531.84,273.35 533.72,273.49 535.66,273.63 537.63,273.77 539.64,273.91 541.67,274.04 543.71,274.17 545.77,274.3 547.84,274.42 549.9,274.55 551.95,274.67 553.99,274.78 556,274.9 558,275.01 560,275.12 562,275.23 564,275.33 566,275.43 568,275.53 570,275.62 572,275.72 574,275.81 576,275.91 578,276 580,276.1 582,276.2 584.04,276.31 586.13,276.43 588.27,276.56 590.43,276.7 592.59,276.84 594.75,276.97 596.87,277.1 598.95,277.22 600.96,277.32 602.89,277.4 604.72,277.47 606.43,277.5 608,277.5 610.92,277.39 613.3,277.15 615.31,276.83 617.15,276.47 618.98,276.11 621,275.8 623.09,275.55 625.09,275.33 627.08,275.12 629.17,274.88 631.45,274.58 634,274.2 635.91,273.9 637.98,273.58 640.17,273.23 642.45,272.86 644.77,272.47 647.09,272.04 649.38,271.59 651.6,271.11 653.7,270.6 655.91,269.95 658,269.19 660.01,268.38 661.99,267.54 664,266.72 666.07,265.95 668.25,265.26 670.6,264.7 672.43,264.38 674.35,264.12 676.35,263.91 678.4,263.74 680.48,263.61 682.59,263.49 684.7,263.37 686.8,263.26 688.86,263.13 690.86,262.98 692.8,262.8 695.1,262.53 697.35,262.23 699.57,261.92 701.75,261.59 703.9,261.27 706.03,260.96 708.14,260.67 710.23,260.41 712.3,260.2 714.63,260.01 716.96,259.86 719.28,259.75 721.56,259.66 723.79,259.58 725.95,259.52 728.02,259.46 730,259.4 732.48,259.31 734.83,259.22 737.04,259.14 739.14,259.09 741.12,259.07 743,259.1 744.95,259.21 746.19,259.39 748.09,259.65 752,260 753.37,260.1 754.93,260.19 756.66,260.29 758.53,260.4 760.53,260.5 762.64,260.62 764.82,260.73 767.05,260.86 769.33,260.98 771.61,261.12 773.88,261.26 776.12,261.41 778.3,261.57 780.4,261.74 782.4,261.92 784.27,262.1 786,262.3 788.44,262.63 790.68,262.98 792.76,263.35 794.72,263.75 796.59,264.16 798.41,264.59 800.21,265.03 802.04,265.49 803.92,265.95 805.89,266.42 808,266.9 809.87,267.31 811.78,267.73 813.73,268.16 815.71,268.6 817.71,269.05 819.73,269.5 821.77,269.96 823.82,270.43 825.87,270.9 827.92,271.37 829.96,271.85 831.99,272.32 834,272.8 836.01,273.28 838.02,273.77 840.05,274.27 842.08,274.78 844.11,275.29 846.14,275.8 848.16,276.31 850.17,276.82 852.18,277.33 854.16,277.84 856.13,278.33 858.08,278.82 860,279.3 862.27,279.87 864.55,280.47 866.83,281.07 869.1,281.68 871.35,282.27 873.56,282.85 875.72,283.4 877.82,283.9 879.84,284.37 881.77,284.77 883.6,285.1 886.09,285.47 888.14,285.69 889.96,285.79 891.74,285.81 893.7,285.79 896.05,285.78 899,285.8 900.62,285.82 902.39,285.83 904.28,285.84 906.28,285.84 908.36,285.83 910.52,285.83 912.72,285.82 914.96,285.81 917.21,285.8 919.46,285.8 921.69,285.8 923.87,285.81 926,285.83 928.05,285.86 930,285.9 932.16,285.96 934.28,286.05 936.34,286.15 938.37,286.26 940.36,286.38 942.33,286.5 944.29,286.62 946.23,286.75 948.16,286.86 950.1,286.97 952.05,287.07 954.01,287.14 956,287.2 958.04,287.24 960.16,287.28 962.32,287.3 964.51,287.32 966.71,287.33 968.89,287.33 971.04,287.33 973.13,287.31 975.14,287.29 977.06,287.25 978.85,287.21 980.51,287.16 982,287.1 984.8,286.98 986.45,286.89 987.75,286.7 989.5,286.28 992.5,285.5 994,285.11 995.7,284.65 997.58,284.13 999.59,283.56 1001.71,282.95 1003.92,282.31 1006.18,281.65 1008.46,280.97 1010.73,280.29 1012.97,279.61 1015.15,278.94 1017.23,278.3 1019.19,277.68 1021,277.1 1023.58,276.25 1025.98,275.44 1028.23,274.66 1030.38,273.88 1032.45,273.12 1034.49,272.34 1036.52,271.56 1038.58,270.75 1040.7,269.9 1042.83,269.03 1044.89,268.14 1046.91,267.24 1048.94,266.33 1050.98,265.4 1053.09,264.45 1055.27,263.48 1057.56,262.5 1060,261.5 1061.78,260.78 1063.63,260.04 1065.54,259.28 1067.51,258.5 1069.51,257.71 1071.55,256.92 1073.62,256.13 1075.7,255.34 1077.78,254.57 1079.86,253.81 1081.93,253.08 1083.98,252.37 1086,251.7 1088.01,251.06 1090.02,250.44 1092.04,249.85 1094.07,249.27 1096.09,248.71 1098.11,248.16 1100.13,247.63 1102.15,247.1 1104.15,246.58 1106.14,246.06 1108.11,245.54 1110.07,245.02 1112,244.5 1114.08,243.92 1116.17,243.33 1118.24,242.74 1120.31,242.14 1122.36,241.55 1124.4,240.97 1126.41,240.41 1128.4,239.87 1130.36,239.35 1132.28,238.86 1134.16,238.41 1136,238 1138.41,237.51 1140.78,237.08 1143.1,236.69 1145.38,236.35 1147.58,236.05 1149.72,235.79 1151.77,235.56 1153.74,235.37 1155.6,235.2 1158.07,235.02 1160.19,234.93 1162.11,234.91 1164.04,234.96 1166.14,235.06 1168.6,235.2 1170.52,235.33 1172.66,235.5 1174.93,235.7 1177.28,235.93 1179.65,236.17 1181.97,236.41 1184.18,236.63 1186.21,236.83 1188,237 1190.81,237.24 1193.27,237.43 1195.36,237.59 1197.04,237.71 1198.3,237.8" fill="none" stroke="#ff8c1a" stroke-opacity="0.72" stroke-width="1.55"/>
<line x1="262.2" y1="187" x2="1438" y2="187" stroke="#000" stroke-width="2.5"/>
<line x1="335.8" y1="268.4" x2="1438" y2="268.4" stroke="#000" stroke-width="2.5"/>
<line x1="13" y1="380.1" x2="1083.5" y2="352.8" stroke="#000" stroke-width="2.7" stroke-linecap="round"/>
<line x1="882.6" y1="330.8" x2="904" y2="275.2" stroke="#000" stroke-width="2.7" stroke-linecap="round"/>
<line x1="903.4" y1="302.4" x2="1009.5" y2="297.6" stroke="#000" stroke-width="2.7" stroke-linecap="round"/>
<line x1="985.5" y1="285.5" x2="1009.7" y2="206" stroke="#000" stroke-width="2.7" stroke-linecap="round"/>
<line x1="1022.5" y1="210" x2="1041" y2="140.8" stroke="#000" stroke-width="2.7" stroke-linecap="round"/>
<line x1="1124.3" y1="143.4" x2="1187.9" y2="218.4" stroke="#000" stroke-width="2.7" stroke-linecap="round"/>
<g>
<rect x="7.93" y="340.6" width="6.4" height="10.1" fill="#d1d4dc" fill-opacity="0.52" stroke="#000" stroke-width="1.05"/>
<rect x="21.07" y="348.2" width="1.15" height="0.7" fill="#000"/>
<rect x="17.94" y="340.5" width="7.4" height="7.7" fill="#000"/>
<rect x="31.57" y="353.5" width="1.15" height="1.2" fill="#000"/>
<rect x="28.45" y="348.2" width="7.4" height="5.3" fill="#000"/>
<rect x="42.08" y="345.3" width="1.15" height="0.95" fill="#000"/>
<rect x="39.46" y="346.75" width="6.4" height="6.25" fill="#d1d4dc" fill-opacity="0.52" stroke="#000" stroke-width="1.05"/>
<rect x="52.59" y="332.3" width="1.15" height="5.5" fill="#000"/>
<rect x="49.97" y="338.3" width="6.4" height="7.6" fill="#d1d4dc" fill-opacity="0.52" stroke="#000" stroke-width="1.05"/>
<rect x="63.1" y="330.1" width="1.15" height="0.7" fill="#000"/>
<rect x="60.48" y="331.3" width="6.4" height="6" fill="#d1d4dc" fill-opacity="0.52" stroke="#000" stroke-width="1.05"/>
<rect x="73.61" y="315.1" width="1.15" height="6.15" fill="#000"/>
<rect x="73.61" y="331.3" width="1.15" height="1.4" fill="#000"/>
<rect x="70.98" y="321.75" width="6.4" height="9.05" fill="#d1d4dc" fill-opacity="0.52" stroke="#000" stroke-width="1.05"/>
<rect x="84.12" y="316" width="1.15" height="5.25" fill="#000"/>
<rect x="84.12" y="323.5" width="1.15" height="6.2" fill="#000"/>
<rect x="80.99" y="321.25" width="7.4" height="2.25" fill="#000"/>
<rect x="94.63" y="315.1" width="1.15" height="4.6" fill="#000"/>
<rect x="94.63" y="323.5" width="1.15" height="5.3" fill="#000"/>
<rect x="92" y="320.2" width="6.4" height="2.8" fill="#d1d4dc" fill-opacity="0.52" stroke="#000" stroke-width="1.05"/>
<rect x="105.14" y="309.5" width="1.15" height="1.7" fill="#000"/>
<rect x="105.14" y="319.7" width="1.15" height="4.8" fill="#000"/>
<rect x="102.51" y="311.7" width="6.4" height="7.5" fill="#d1d4dc" fill-opacity="0.52" stroke="#000" stroke-width="1.05"/>
<rect x="115.65" y="297.2" width="1.15" height="3.9" fill="#000"/>
<rect x="113.02" y="301.6" width="6.4" height="9.1" fill="#d1d4dc" fill-opacity="0.52" stroke="#000" stroke-width="1.05"/>
<rect x="126.15" y="311.2" width="1.15" height="2.9" fill="#000"/>
<rect x="123.03" y="301.1" width="7.4" height="10.1" fill="#000"/>
<rect x="136.66" y="301.5" width="1.15" height="5.4" fill="#000"/>
<rect x="136.66" y="311.2" width="1.15" height="4.6" fill="#000"/>
<rect x="134.04" y="307.4" width="6.4" height="3.3" fill="#d1d4dc" fill-opacity="0.52" stroke="#000" stroke-width="1.05"/>
<rect x="147.17" y="294.8" width="1.15" height="11.1" fill="#000"/>
<rect x="147.17" y="307.2" width="1.15" height="4.3" fill="#000"/>
<rect x="144.05" y="305.9" width="7.4" height="1.3" fill="#000"/>
<rect x="157.68" y="295.4" width="1.15" height="10.7" fill="#000"/>
<rect x="157.68" y="309.7" width="1.15" height="6.9" fill="#000"/>
<rect x="154.56" y="306.1" width="7.4" height="3.6" fill="#000"/>
<rect x="168.19" y="276.85" width="1.15" height="16.55" fill="#000"/>
<rect x="168.19" y="309.4" width="1.15" height="2.9" fill="#000"/>
<rect x="165.56" y="293.9" width="6.4" height="15" fill="#d1d4dc" fill-opacity="0.52" stroke="#000" stroke-width="1.05"/>
<rect x="178.7" y="283.4" width="1.15" height="9.3" fill="#000"/>
<rect x="178.7" y="294.4" width="1.15" height="1.6" fill="#000"/>
<rect x="175.57" y="292.7" width="7.4" height="1.7" fill="#000"/>
<rect x="189.21" y="293.3" width="1.15" height="0.5" fill="#000"/>
<rect x="189.21" y="307" width="1.15" height="5.3" fill="#000"/>
<rect x="186.08" y="293.8" width="7.4" height="13.2" fill="#000"/>
<rect x="199.72" y="298.2" width="1.15" height="6.9" fill="#000"/>
<rect x="197.09" y="305.3" width="6.4" height="1.9" fill="#d1d4dc" fill-opacity="0.52" stroke="#000" stroke-width="1.05"/>
<rect x="210.23" y="288.8" width="1.15" height="1.7" fill="#000"/>
<rect x="207.6" y="291" width="6.4" height="13.9" fill="#d1d4dc" fill-opacity="0.52" stroke="#000" stroke-width="1.05"/>
<rect x="220.73" y="265.4" width="1.15" height="1" fill="#000"/>
<rect x="220.73" y="290.5" width="1.15" height="2" fill="#000"/>
<rect x="218.11" y="266.9" width="6.4" height="23.1" fill="#d1d4dc" fill-opacity="0.52" stroke="#000" stroke-width="1.05"/>
<rect x="231.24" y="250.2" width="1.15" height="1.3" fill="#000"/>
<rect x="231.24" y="266.7" width="1.15" height="1" fill="#000"/>
<rect x="228.62" y="252" width="6.4" height="14.2" fill="#d1d4dc" fill-opacity="0.52" stroke="#000" stroke-width="1.05"/>
<rect x="241.75" y="224.4" width="1.15" height="2" fill="#000"/>
<rect x="241.75" y="251.5" width="1.15" height="4.1" fill="#000"/>
<rect x="239.13" y="226.9" width="6.4" height="24.1" fill="#d1d4dc" fill-opacity="0.52" stroke="#000" stroke-width="1.05"/>
<rect x="252.26" y="193.4" width="1.15" height="7.85" fill="#000"/>
<rect x="252.26" y="226.4" width="1.15" height="18.1" fill="#000"/>
<rect x="249.64" y="201.75" width="6.4" height="24.15" fill="#d1d4dc" fill-opacity="0.52" stroke="#000" stroke-width="1.05"/>
<rect x="262.77" y="186.9" width="1.15" height="14.35" fill="#000"/>
<rect x="262.77" y="216.2" width="1.15" height="14.6" fill="#000"/>
<rect x="259.65" y="201.25" width="7.4" height="14.95" fill="#000"/>
<rect x="273.28" y="229" width="1.15" height="24.5" fill="#000"/>
<rect x="270.15" y="216" width="7.4" height="13" fill="#000"/>
<rect x="283.79" y="214.5" width="1.15" height="1.7" fill="#000"/>
<rect x="283.79" y="228.9" width="1.15" height="1.6" fill="#000"/>
<rect x="281.16" y="216.7" width="6.4" height="11.7" fill="#d1d4dc" fill-opacity="0.52" stroke="#000" stroke-width="1.05"/>
<rect x="294.3" y="229" width="1.15" height="15.6" fill="#000"/>
<rect x="291.17" y="216" width="7.4" height="13" fill="#000"/>
<rect x="304.81" y="210.75" width="1.15" height="17.45" fill="#000"/>
<rect x="304.81" y="248.8" width="1.15" height="18.9" fill="#000"/>
<rect x="301.68" y="228.2" width="7.4" height="20.6" fill="#000"/>
<rect x="315.31" y="239.9" width="1.15" height="8" fill="#000"/>
<rect x="315.31" y="249.2" width="1.15" height="17.8" fill="#000"/>
<rect x="312.19" y="247.9" width="7.4" height="1.3" fill="#000"/>
<rect x="325.82" y="234.7" width="1.15" height="6.7" fill="#000"/>
<rect x="325.82" y="248.6" width="1.15" height="4.9" fill="#000"/>
<rect x="323.2" y="241.9" width="6.4" height="6.2" fill="#d1d4dc" fill-opacity="0.52" stroke="#000" stroke-width="1.05"/>
<rect x="336.33" y="240.3" width="1.15" height="1.1" fill="#000"/>
<rect x="336.33" y="249.6" width="1.15" height="19.3" fill="#000"/>
<rect x="333.21" y="241.4" width="7.4" height="8.2" fill="#000"/>
<rect x="346.84" y="244" width="1.15" height="5.4" fill="#000"/>
<rect x="346.84" y="263.4" width="1.15" height="2.6" fill="#000"/>
<rect x="343.72" y="249.4" width="7.4" height="14" fill="#000"/>
<rect x="357.35" y="248.2" width="1.15" height="5.8" fill="#000"/>
<rect x="357.35" y="263.3" width="1.15" height="4" fill="#000"/>
<rect x="354.73" y="254.5" width="6.4" height="8.3" fill="#d1d4dc" fill-opacity="0.52" stroke="#000" stroke-width="1.05"/>
<rect x="367.86" y="196.3" width="1.15" height="8.4" fill="#000"/>
<rect x="367.86" y="253.7" width="1.15" height="0.9" fill="#000"/>
<rect x="365.23" y="205.2" width="6.4" height="48" fill="#d1d4dc" fill-opacity="0.52" stroke="#000" stroke-width="1.05"/>
<rect x="378.37" y="194.3" width="1.15" height="10.7" fill="#000"/>
<rect x="378.37" y="207.7" width="1.15" height="4.2" fill="#000"/>
<rect x="375.24" y="205" width="7.4" height="2.7" fill="#000"/>
<rect x="388.88" y="200.4" width="1.15" height="6.9" fill="#000"/>
<rect x="388.88" y="212.6" width="1.15" height="6.2" fill="#000"/>
<rect x="385.75" y="207.3" width="7.4" height="5.3" fill="#000"/>
<rect x="399.39" y="211.25" width="1.15" height="1.05" fill="#000"/>
<rect x="399.39" y="217.8" width="1.15" height="16.6" fill="#000"/>
<rect x="396.26" y="212.3" width="7.4" height="5.5" fill="#000"/>
<rect x="409.89" y="217" width="1.15" height="0.8" fill="#000"/>
<rect x="409.89" y="231.7" width="1.15" height="3.6" fill="#000"/>
<rect x="406.77" y="217.8" width="7.4" height="13.9" fill="#000"/>
<rect x="420.4" y="226.2" width="1.15" height="3.3" fill="#000"/>
<rect x="420.4" y="231.4" width="1.15" height="10.45" fill="#000"/>
<rect x="417.78" y="229.5" width="6.4" height="1.9" fill="#d1d4dc" fill-opacity="0.52" stroke="#000" stroke-width="1.05"/>
<rect x="430.91" y="224.3" width="1.15" height="5.6" fill="#000"/>
<rect x="430.91" y="263.4" width="1.15" height="7.2" fill="#000"/>
<rect x="427.79" y="229.9" width="7.4" height="33.5" fill="#000"/>
<rect x="441.42" y="240.5" width="1.15" height="2" fill="#000"/>
<rect x="441.42" y="263.3" width="1.15" height="4" fill="#000"/>
<rect x="438.8" y="243" width="6.4" height="19.8" fill="#d1d4dc" fill-opacity="0.52" stroke="#000" stroke-width="1.05"/>
<rect x="451.93" y="223" width="1.15" height="0.6" fill="#000"/>
<rect x="449.31" y="224.1" width="6.4" height="17.9" fill="#d1d4dc" fill-opacity="0.52" stroke="#000" stroke-width="1.05"/>
<rect x="462.44" y="222" width="1.15" height="1.9" fill="#000"/>
<rect x="462.44" y="240.5" width="1.15" height="11.7" fill="#000"/>
<rect x="459.31" y="223.9" width="7.4" height="16.6" fill="#000"/>
<rect x="472.95" y="232.1" width="1.15" height="8.8" fill="#000"/>
<rect x="472.95" y="278.8" width="1.15" height="3.5" fill="#000"/>
<rect x="469.82" y="240.9" width="7.4" height="37.9" fill="#000"/>
<rect x="483.46" y="276.85" width="1.15" height="1.3" fill="#000"/>
<rect x="483.46" y="288.4" width="1.15" height="28.2" fill="#000"/>
<rect x="480.33" y="278.15" width="7.4" height="10.25" fill="#000"/>
<rect x="493.97" y="272.3" width="1.15" height="11.7" fill="#000"/>
<rect x="493.97" y="288.4" width="1.15" height="1.5" fill="#000"/>
<rect x="491.34" y="284.5" width="6.4" height="3.4" fill="#d1d4dc" fill-opacity="0.52" stroke="#000" stroke-width="1.05"/>
<rect x="504.47" y="270" width="1.15" height="5.2" fill="#000"/>
<rect x="504.47" y="283.6" width="1.15" height="4.6" fill="#000"/>
<rect x="501.85" y="275.7" width="6.4" height="7.4" fill="#d1d4dc" fill-opacity="0.52" stroke="#000" stroke-width="1.05"/>
<rect x="514.98" y="274" width="1.15" height="0.9" fill="#000"/>
<rect x="514.98" y="296.9" width="1.15" height="0.8" fill="#000"/>
<rect x="511.86" y="274.9" width="7.4" height="22" fill="#000"/>
<rect x="525.49" y="287.1" width="1.15" height="9.15" fill="#000"/>
<rect x="525.49" y="304.7" width="1.15" height="9.5" fill="#000"/>
<rect x="522.37" y="296.25" width="7.4" height="8.45" fill="#000"/>
<rect x="536" y="294.3" width="1.15" height="9.1" fill="#000"/>
<rect x="536" y="304.7" width="1.15" height="0.8" fill="#000"/>
<rect x="532.88" y="303.4" width="7.4" height="1.3" fill="#000"/>
<rect x="546.51" y="282.6" width="1.15" height="3.6" fill="#000"/>
<rect x="546.51" y="303.5" width="1.15" height="3.5" fill="#000"/>
<rect x="543.89" y="286.7" width="6.4" height="16.3" fill="#d1d4dc" fill-opacity="0.52" stroke="#000" stroke-width="1.05"/>
<rect x="557.02" y="276.2" width="1.15" height="5.2" fill="#000"/>
<rect x="557.02" y="286.2" width="1.15" height="2.4" fill="#000"/>
<rect x="554.39" y="281.9" width="6.4" height="3.8" fill="#d1d4dc" fill-opacity="0.52" stroke="#000" stroke-width="1.05"/>
<rect x="567.53" y="280" width="1.15" height="1" fill="#000"/>
<rect x="567.53" y="294.7" width="1.15" height="8.2" fill="#000"/>
<rect x="564.4" y="281" width="7.4" height="13.7" fill="#000"/>
<rect x="578.04" y="289.5" width="1.15" height="3.6" fill="#000"/>
<rect x="578.04" y="295.1" width="1.15" height="6.7" fill="#000"/>
<rect x="575.41" y="293.15" width="6.4" height="1.9" fill="#d1d4dc" fill-opacity="0.52" stroke="#000" stroke-width="1.05"/>
<rect x="588.55" y="274.2" width="1.15" height="1" fill="#000"/>
<rect x="588.55" y="293.4" width="1.15" height="0.6" fill="#000"/>
<rect x="585.92" y="275.7" width="6.4" height="17.2" fill="#d1d4dc" fill-opacity="0.52" stroke="#000" stroke-width="1.05"/>
<rect x="599.05" y="273.2" width="1.15" height="1.7" fill="#000"/>
<rect x="599.05" y="290.5" width="1.15" height="8.1" fill="#000"/>
<rect x="595.93" y="274.9" width="7.4" height="15.6" fill="#000"/>
<rect x="609.56" y="276.85" width="1.15" height="13.65" fill="#000"/>
<rect x="609.56" y="294" width="1.15" height="2.9" fill="#000"/>
<rect x="606.44" y="290.5" width="7.4" height="3.5" fill="#000"/>
<rect x="620.07" y="242.35" width="1.15" height="4.85" fill="#000"/>
<rect x="620.07" y="293.8" width="1.15" height="6.7" fill="#000"/>
<rect x="617.45" y="247.7" width="6.4" height="45.6" fill="#d1d4dc" fill-opacity="0.52" stroke="#000" stroke-width="1.05"/>
<rect x="630.58" y="229.7" width="1.15" height="17.4" fill="#000"/>
<rect x="630.58" y="253.45" width="1.15" height="4.2" fill="#000"/>
<rect x="627.46" y="247.1" width="7.4" height="6.35" fill="#000"/>
<rect x="641.09" y="226.2" width="1.15" height="8.7" fill="#000"/>
<rect x="641.09" y="253.6" width="1.15" height="1.95" fill="#000"/>
<rect x="638.47" y="235.4" width="6.4" height="17.7" fill="#d1d4dc" fill-opacity="0.52" stroke="#000" stroke-width="1.05"/>
<rect x="651.6" y="209.9" width="1.15" height="2.6" fill="#000"/>
<rect x="651.6" y="235.2" width="1.15" height="6.3" fill="#000"/>
<rect x="648.97" y="213" width="6.4" height="21.7" fill="#d1d4dc" fill-opacity="0.52" stroke="#000" stroke-width="1.05"/>
<rect x="662.11" y="188" width="1.15" height="5.2" fill="#000"/>
<rect x="662.11" y="212.5" width="1.15" height="12.4" fill="#000"/>
<rect x="659.48" y="193.7" width="6.4" height="18.3" fill="#d1d4dc" fill-opacity="0.52" stroke="#000" stroke-width="1.05"/>
<rect x="672.62" y="195.6" width="1.15" height="29.3" fill="#000"/>
<rect x="669.49" y="193" width="7.4" height="2.6" fill="#000"/>
<rect x="683.13" y="188" width="1.15" height="7.2" fill="#000"/>
<rect x="683.13" y="239.8" width="1.15" height="12.5" fill="#000"/>
<rect x="680" y="195.2" width="7.4" height="44.6" fill="#000"/>
<rect x="693.63" y="222.8" width="1.15" height="12.4" fill="#000"/>
<rect x="693.63" y="240.1" width="1.15" height="3.5" fill="#000"/>
<rect x="691.01" y="235.7" width="6.4" height="3.9" fill="#d1d4dc" fill-opacity="0.52" stroke="#000" stroke-width="1.05"/>
<rect x="704.14" y="214.1" width="1.15" height="2.8" fill="#000"/>
<rect x="704.14" y="235.2" width="1.15" height="2.6" fill="#000"/>
<rect x="701.52" y="217.4" width="6.4" height="17.3" fill="#d1d4dc" fill-opacity="0.52" stroke="#000" stroke-width="1.05"/>
<rect x="714.65" y="209.9" width="1.15" height="7" fill="#000"/>
<rect x="714.65" y="240.75" width="1.15" height="7.15" fill="#000"/>
<rect x="711.53" y="216.9" width="7.4" height="23.85" fill="#000"/>
<rect x="725.16" y="223.4" width="1.15" height="17.7" fill="#000"/>
<rect x="725.16" y="244.4" width="1.15" height="19" fill="#000"/>
<rect x="722.04" y="241.1" width="7.4" height="3.3" fill="#000"/>
<rect x="735.67" y="228.1" width="1.15" height="15" fill="#000"/>
<rect x="735.67" y="244.75" width="1.15" height="4" fill="#000"/>
<rect x="732.55" y="243.1" width="7.4" height="1.65" fill="#000"/>
<rect x="746.18" y="229.9" width="1.15" height="13.4" fill="#000"/>
<rect x="746.18" y="267.6" width="1.15" height="6.9" fill="#000"/>
<rect x="743.05" y="243.3" width="7.4" height="24.3" fill="#000"/>
<rect x="756.69" y="264.3" width="1.15" height="4.3" fill="#000"/>
<rect x="756.69" y="282.9" width="1.15" height="31.8" fill="#000"/>
<rect x="753.56" y="268.6" width="7.4" height="14.3" fill="#000"/>
<rect x="767.2" y="271.85" width="1.15" height="9.35" fill="#000"/>
<rect x="767.2" y="283.2" width="1.15" height="4.3" fill="#000"/>
<rect x="764.57" y="281.25" width="6.4" height="1.9" fill="#d1d4dc" fill-opacity="0.52" stroke="#000" stroke-width="1.05"/>
<rect x="777.71" y="269.5" width="1.15" height="0.7" fill="#000"/>
<rect x="777.71" y="281.2" width="1.15" height="2.9" fill="#000"/>
<rect x="775.08" y="270.7" width="6.4" height="10" fill="#d1d4dc" fill-opacity="0.52" stroke="#000" stroke-width="1.05"/>
<rect x="788.21" y="268.5" width="1.15" height="0.6" fill="#000"/>
<rect x="788.21" y="289.85" width="1.15" height="28.4" fill="#000"/>
<rect x="785.09" y="269.1" width="7.4" height="20.75" fill="#000"/>
<rect x="798.72" y="289" width="1.15" height="0.65" fill="#000"/>
<rect x="798.72" y="322.8" width="1.15" height="1.3" fill="#000"/>
<rect x="795.6" y="289.65" width="7.4" height="33.15" fill="#000"/>
<rect x="809.23" y="313.45" width="1.15" height="9.05" fill="#000"/>
<rect x="809.23" y="331.9" width="1.15" height="8.7" fill="#000"/>
<rect x="806.11" y="322.5" width="7.4" height="9.4" fill="#000"/>
<rect x="819.74" y="319.45" width="1.15" height="5.05" fill="#000"/>
<rect x="817.12" y="325" width="6.4" height="6.1" fill="#d1d4dc" fill-opacity="0.52" stroke="#000" stroke-width="1.05"/>
<rect x="830.25" y="316.95" width="1.15" height="6.85" fill="#000"/>
<rect x="830.25" y="336.8" width="1.15" height="1.6" fill="#000"/>
<rect x="827.13" y="323.8" width="7.4" height="13" fill="#000"/>
<rect x="840.76" y="326.4" width="1.15" height="10.4" fill="#000"/>
<rect x="840.76" y="351.7" width="1.15" height="1.7" fill="#000"/>
<rect x="837.63" y="336.8" width="7.4" height="14.9" fill="#000"/>
<rect x="851.27" y="344.25" width="1.15" height="6.25" fill="#000"/>
<rect x="851.27" y="351.8" width="1.15" height="12" fill="#000"/>
<rect x="848.14" y="350.5" width="7.4" height="1.3" fill="#000"/>
<rect x="861.78" y="344.25" width="1.15" height="5.35" fill="#000"/>
<rect x="861.78" y="350.8" width="1.15" height="2.8" fill="#000"/>
<rect x="858.65" y="349.6" width="7.4" height="1.2" fill="#000"/>
<rect x="872.29" y="333.2" width="1.15" height="4.5" fill="#000"/>
<rect x="872.29" y="351.4" width="1.15" height="2" fill="#000"/>
<rect x="869.66" y="338.2" width="6.4" height="12.7" fill="#d1d4dc" fill-opacity="0.52" stroke="#000" stroke-width="1.05"/>
<rect x="882.8" y="331.9" width="1.15" height="4.9" fill="#000"/>
<rect x="882.8" y="338" width="1.15" height="3.6" fill="#000"/>
<rect x="879.67" y="336.8" width="7.4" height="1.2" fill="#000"/>
<rect x="893.3" y="284.5" width="1.15" height="5.9" fill="#000"/>
<rect x="893.3" y="337.1" width="1.15" height="2.6" fill="#000"/>
<rect x="890.68" y="290.9" width="6.4" height="45.7" fill="#d1d4dc" fill-opacity="0.52" stroke="#000" stroke-width="1.05"/>
<rect x="903.81" y="276" width="1.15" height="14.25" fill="#000"/>
<rect x="903.81" y="291.55" width="1.15" height="10.4" fill="#000"/>
<rect x="900.69" y="290.25" width="7.4" height="1.3" fill="#000"/>
<rect x="914.32" y="275.75" width="1.15" height="12.45" fill="#000"/>
<rect x="914.32" y="291.3" width="1.15" height="9.7" fill="#000"/>
<rect x="911.7" y="288.7" width="6.4" height="2.1" fill="#d1d4dc" fill-opacity="0.52" stroke="#000" stroke-width="1.05"/>
<rect x="924.83" y="272.1" width="1.15" height="15.5" fill="#000"/>
<rect x="924.83" y="288.8" width="1.15" height="3.8" fill="#000"/>
<rect x="921.71" y="287.6" width="7.4" height="1.2" fill="#000"/>
<rect x="935.34" y="279" width="1.15" height="9.7" fill="#000"/>
<rect x="935.34" y="290.5" width="1.15" height="8.15" fill="#000"/>
<rect x="932.21" y="288.7" width="7.4" height="1.8" fill="#000"/>
<rect x="945.85" y="266.7" width="1.15" height="21.5" fill="#000"/>
<rect x="945.85" y="290.5" width="1.15" height="4.75" fill="#000"/>
<rect x="943.22" y="288.4" width="6.4" height="1.9" fill="#d1d4dc" fill-opacity="0.52" stroke="#000" stroke-width="1.05"/>
<rect x="956.36" y="279" width="1.15" height="9.1" fill="#000"/>
<rect x="956.36" y="309.25" width="1.15" height="6.65" fill="#000"/>
<rect x="953.23" y="288.1" width="7.4" height="21.15" fill="#000"/>
<rect x="966.87" y="289.3" width="1.15" height="2.15" fill="#000"/>
<rect x="966.87" y="309.2" width="1.15" height="2.5" fill="#000"/>
<rect x="964.24" y="291.95" width="6.4" height="16.75" fill="#d1d4dc" fill-opacity="0.52" stroke="#000" stroke-width="1.05"/>
<rect x="977.38" y="281.9" width="1.15" height="4.7" fill="#000"/>
<rect x="977.38" y="291.3" width="1.15" height="6" fill="#000"/>
<rect x="974.75" y="287.1" width="6.4" height="3.7" fill="#d1d4dc" fill-opacity="0.52" stroke="#000" stroke-width="1.05"/>
<rect x="987.88" y="256.25" width="1.15" height="4.15" fill="#000"/>
<rect x="987.88" y="286.2" width="1.15" height="3.5" fill="#000"/>
<rect x="985.26" y="260.9" width="6.4" height="24.8" fill="#d1d4dc" fill-opacity="0.52" stroke="#000" stroke-width="1.05"/>
<rect x="998.39" y="204.7" width="1.15" height="5" fill="#000"/>
<rect x="998.39" y="260.15" width="1.15" height="2.35" fill="#000"/>
<rect x="995.77" y="210.2" width="6.4" height="49.45" fill="#d1d4dc" fill-opacity="0.52" stroke="#000" stroke-width="1.05"/>
<rect x="1008.9" y="200.2" width="1.15" height="1.3" fill="#000"/>
<rect x="1008.9" y="209.3" width="1.15" height="15.6" fill="#000"/>
<rect x="1006.28" y="202" width="6.4" height="6.8" fill="#d1d4dc" fill-opacity="0.52" stroke="#000" stroke-width="1.05"/>
<rect x="1019.41" y="197" width="1.15" height="4.5" fill="#000"/>
<rect x="1019.41" y="226.4" width="1.15" height="8.9" fill="#000"/>
<rect x="1016.29" y="201.5" width="7.4" height="24.9" fill="#000"/>
<rect x="1029.92" y="171.4" width="1.15" height="5" fill="#000"/>
<rect x="1027.29" y="176.9" width="6.4" height="48.8" fill="#d1d4dc" fill-opacity="0.52" stroke="#000" stroke-width="1.05"/>
<rect x="1040.43" y="141" width="1.15" height="20.9" fill="#000"/>
<rect x="1040.43" y="176.4" width="1.15" height="5.5" fill="#000"/>
<rect x="1037.8" y="162.4" width="6.4" height="13.5" fill="#d1d4dc" fill-opacity="0.52" stroke="#000" stroke-width="1.05"/>
<rect x="1050.94" y="130.2" width="1.15" height="12.2" fill="#000"/>
<rect x="1050.94" y="161.9" width="1.15" height="26.8" fill="#000"/>
<rect x="1048.31" y="142.9" width="6.4" height="18.5" fill="#d1d4dc" fill-opacity="0.52" stroke="#000" stroke-width="1.05"/>
<rect x="1061.45" y="140.8" width="1.15" height="1.3" fill="#000"/>
<rect x="1061.45" y="167.5" width="1.15" height="8.5" fill="#000"/>
<rect x="1058.32" y="142.1" width="7.4" height="25.4" fill="#000"/>
<rect x="1071.96" y="161.4" width="1.15" height="5.9" fill="#000"/>
<rect x="1071.96" y="173.4" width="1.15" height="5.2" fill="#000"/>
<rect x="1068.83" y="167.3" width="7.4" height="6.1" fill="#000"/>
<rect x="1082.46" y="143.2" width="1.15" height="10.4" fill="#000"/>
<rect x="1082.46" y="173.4" width="1.15" height="1.3" fill="#000"/>
<rect x="1079.84" y="154.1" width="6.4" height="18.8" fill="#d1d4dc" fill-opacity="0.52" stroke="#000" stroke-width="1.05"/>
<rect x="1092.97" y="148.9" width="1.15" height="4.6" fill="#000"/>
<rect x="1092.97" y="163.6" width="1.15" height="2.2" fill="#000"/>
<rect x="1089.85" y="153.5" width="7.4" height="10.1" fill="#000"/>
<rect x="1103.48" y="162.5" width="1.15" height="1.4" fill="#000"/>
<rect x="1103.48" y="183.6" width="1.15" height="20.85" fill="#000"/>
<rect x="1100.36" y="163.9" width="7.4" height="19.7" fill="#000"/>
<rect x="1113.99" y="152.3" width="1.15" height="7.2" fill="#000"/>
<rect x="1113.99" y="183.2" width="1.15" height="2.05" fill="#000"/>
<rect x="1111.37" y="160" width="6.4" height="22.7" fill="#d1d4dc" fill-opacity="0.52" stroke="#000" stroke-width="1.05"/>
<rect x="1124.5" y="143.4" width="1.15" height="15.7" fill="#000"/>
<rect x="1124.5" y="183.6" width="1.15" height="45.2" fill="#000"/>
<rect x="1121.37" y="159.1" width="7.4" height="24.5" fill="#000"/>
<rect x="1135.01" y="174.1" width="1.15" height="9.3" fill="#000"/>
<rect x="1135.01" y="194.55" width="1.15" height="19.05" fill="#000"/>
<rect x="1131.88" y="183.4" width="7.4" height="11.15" fill="#000"/>
<rect x="1145.52" y="181.5" width="1.15" height="1.2" fill="#000"/>
<rect x="1145.52" y="194.25" width="1.15" height="16.85" fill="#000"/>
<rect x="1142.89" y="183.2" width="6.4" height="10.55" fill="#d1d4dc" fill-opacity="0.52" stroke="#000" stroke-width="1.05"/>
<rect x="1156.03" y="176.9" width="1.15" height="5.5" fill="#000"/>
<rect x="1156.03" y="198.7" width="1.15" height="14.9" fill="#000"/>
<rect x="1152.9" y="182.4" width="7.4" height="16.3" fill="#000"/>
<rect x="1166.54" y="198" width="1.15" height="0.85" fill="#000"/>
<rect x="1166.54" y="220.5" width="1.15" height="33.65" fill="#000"/>
<rect x="1163.41" y="198.85" width="7.4" height="21.65" fill="#000"/>
<rect x="1177.04" y="215.3" width="1.15" height="4.8" fill="#000"/>
<rect x="1177.04" y="251.9" width="1.15" height="5.65" fill="#000"/>
<rect x="1173.92" y="220.1" width="7.4" height="31.8" fill="#000"/>
<rect x="1187.55" y="244.15" width="1.15" height="8" fill="#000"/>
<rect x="1187.55" y="271.6" width="1.15" height="10.7" fill="#000"/>
<rect x="1184.43" y="252.15" width="7.4" height="19.45" fill="#000"/>
<rect x="1198.06" y="252.3" width="1.15" height="2.4" fill="#000"/>
<rect x="1198.06" y="271.6" width="1.15" height="1.8" fill="#000"/>
<rect x="1195.44" y="255.2" width="6.4" height="15.9" fill="#d1d4dc" fill-opacity="0.52" stroke="#000" stroke-width="1.05"/>
</g>
</g>
<g id="legend">
<text x="23" y="59.3" font-size="15" stroke="#131722" stroke-width="0.3" fill="#131722" textLength="66.8" lengthAdjust="spacingAndGlyphs">Ethereum</text>
<text x="106.4" y="59.3" font-size="15" stroke="#131722" stroke-width="0.3" fill="#131722" textLength="62.9" lengthAdjust="spacingAndGlyphs">TetherUS</text>
<text x="184.8" y="59.3" font-size="15" stroke="#131722" stroke-width="0.3" fill="#131722" textLength="19.2" lengthAdjust="spacingAndGlyphs">1W</text>
<text x="220.4" y="59.3" font-size="15" stroke="#131722" stroke-width="0.3" fill="#131722" textLength="53.5" lengthAdjust="spacingAndGlyphs">Binance</text>
<text x="283.2" y="59.3" font-size="15" stroke="#131722" stroke-width="0.3" fill="#131722" textLength="70.5" lengthAdjust="spacingAndGlyphs">O2,802.16</text>
<text x="363.1" y="59.3" font-size="15" stroke="#131722" stroke-width="0.3" fill="#131722" textLength="69.7" lengthAdjust="spacingAndGlyphs">H3,099.00</text>
<text x="442.2" y="59.3" font-size="15" stroke="#131722" stroke-width="0.3" fill="#131722" textLength="68.1" lengthAdjust="spacingAndGlyphs">L2,763.00</text>
<text x="519.3" y="59.3" font-size="15" stroke="#131722" stroke-width="0.3" fill="#131722" textLength="68.2" lengthAdjust="spacingAndGlyphs">C3,057.81</text>
<text x="597.9" y="59.3" font-size="15" stroke="#131722" stroke-width="0.3" fill="#131722" textLength="53.2" lengthAdjust="spacingAndGlyphs">+255.65</text>
<text x="656.6" y="59.3" font-size="15" stroke="#131722" stroke-width="0.3" fill="#131722" textLength="58.8" lengthAdjust="spacingAndGlyphs">(+9.12%)</text>
<text x="99.6" y="59.3" font-size="15" text-anchor="middle" fill="#131722" stroke="#131722" stroke-width="0.3">/</text>
<text x="175.8" y="59.3" font-size="15" font-weight="bold" text-anchor="middle" fill="#131722">·</text>
<text x="212.3" y="59.3" font-size="15" font-weight="bold" text-anchor="middle" fill="#131722">·</text>
<text x="23" y="81.5" font-size="15" stroke="#131722" stroke-width="0.3" fill="#131722" textLength="28.7" lengthAdjust="spacingAndGlyphs">EMA</text>
<text x="55.7" y="81.5" font-size="15" stroke="#131722" stroke-width="0.3" fill="#131722" textLength="105.7" lengthAdjust="spacingAndGlyphs">20/50/100/200</text>
<text x="23" y="411.3" font-size="15" stroke="#131722" stroke-width="0.3" fill="#131722" textLength="20.3" lengthAdjust="spacingAndGlyphs">RSI</text>
<text x="23" y="497.3" font-size="15" stroke="#131722" stroke-width="0.3" fill="#131722" textLength="38.2" lengthAdjust="spacingAndGlyphs">Stoch</text>
</g>
<g id="axis">
<g clip-path="url(#ca1)">
<path d="M1439 90.7H1514a2 2 0 0 1 2 2V111a2 2 0 0 1 -2 2H1439Z" fill="#2e2e2e"/>
<text x="1449.8" y="106.5" font-size="15" font-weight="bold" fill="#fff" textLength="59.5" lengthAdjust="spacingAndGlyphs">4,807.71</text>
<path d="M1439 113H1514a2 2 0 0 1 2 2V132.6a2 2 0 0 1 -2 2H1439Z" fill="#2e2e2e"/>
<text x="1449.8" y="128.1" font-size="15" font-weight="bold" fill="#fff" textLength="59.5" lengthAdjust="spacingAndGlyphs">4,492.09</text>
<path d="M1439 134.6H1514a2 2 0 0 1 2 2V155.5a2 2 0 0 1 -2 2H1439Z" fill="#2e2e2e"/>
<text x="1449.8" y="150.3" font-size="15" font-weight="bold" fill="#fff" textLength="59.5" lengthAdjust="spacingAndGlyphs">4,272.68</text>
<path d="M1439 157.5H1514a2 2 0 0 1 2 2V175.6a2 2 0 0 1 -2 2H1439Z" fill="#000"/>
<text x="1449.8" y="171.9" font-size="15" font-weight="bold" fill="#fff" textLength="59.5" lengthAdjust="spacingAndGlyphs">4,095.98</text>
<path d="M1439 177.6H1514a2 2 0 0 1 2 2V199a2 2 0 0 1 -2 2H1439Z" fill="#2e2e2e"/>
<text x="1449.8" y="194.1" font-size="15" font-weight="bold" fill="#fff" textLength="59.5" lengthAdjust="spacingAndGlyphs">3,472.37</text>
<path d="M1439 201H1514a2 2 0 0 1 2 2V219.8a2 2 0 0 1 -2 2H1439Z" fill="#ff7b0a"/>
<text x="1449.8" y="215.4" font-size="15" font-weight="bold" fill="#fff" textLength="59.5" lengthAdjust="spacingAndGlyphs">3,313.47</text>
<path d="M1439 221.8H1514a2 2 0 0 1 2 2V241.6a2 2 0 0 1 -2 2H1439Z" fill="#2e2e2e"/>
<text x="1449.8" y="237.6" font-size="15" font-weight="bold" fill="#fff" textLength="59.5" lengthAdjust="spacingAndGlyphs">3,105.52</text>
<path d="M1439 243.6H1514a2 2 0 0 1 2 2V282.3a2 2 0 0 1 -2 2H1439Z" fill="#d1d4dc"/>
<text x="1449.8" y="258.9" font-size="15" stroke="#131722" stroke-width="0.3" fill="#131722" textLength="59.5" lengthAdjust="spacingAndGlyphs">3,057.81</text>
<path d="M1439 284.3H1514a2 2 0 0 1 2 2V303a2 2 0 0 1 -2 2H1439Z" fill="#00ffff"/>
<text x="1449.8" y="299" font-size="15" stroke="#000" stroke-width="0.3" fill="#000" textLength="59.5" lengthAdjust="spacingAndGlyphs">3,008.79</text>
<path d="M1439 305H1514a2 2 0 0 1 2 2V325.7a2 2 0 0 1 -2 2H1439Z" fill="#000"/>
<text x="1449.8" y="320.9" font-size="15" font-weight="bold" fill="#fff" textLength="59.5" lengthAdjust="spacingAndGlyphs">2,852.02</text>
<path d="M1439 327.7H1514a2 2 0 0 1 2 2V347a2 2 0 0 1 -2 2H1439Z" fill="#0000ff"/>
<text x="1449.8" y="342.8" font-size="15" font-weight="bold" fill="#fff" textLength="59.5" lengthAdjust="spacingAndGlyphs">2,575.31</text>
<path d="M1439 349H1514a2 2 0 0 1 2 2V369.2a2 2 0 0 1 -2 2H1439Z" fill="#2e2e2e"/>
<text x="1449.8" y="364.3" font-size="15" font-weight="bold" fill="#fff" textLength="59.5" lengthAdjust="spacingAndGlyphs">1,754.48</text>
<path d="M1439 371.2H1514a2 2 0 0 1 2 2V391a2 2 0 0 1 -2 2H1439Z" fill="#2e2e2e"/>
<text x="1449.8" y="386.7" font-size="15" font-weight="bold" fill="#fff" textLength="59.5" lengthAdjust="spacingAndGlyphs">1,476.78</text>
<text x="1450.2" y="277.5" font-size="15" stroke="#434651" stroke-width="0.3" fill="#434651" textLength="37.9" lengthAdjust="spacingAndGlyphs">2d 4h</text>
</g>
<rect x="1443.5" y="39.5" width="74" height="33" rx="5" fill="#fff" stroke="#eceef2" stroke-width="1"/>
<text x="1455.1" y="61.4" font-size="15" stroke="#131722" stroke-width="0.3" fill="#131722" textLength="36.4" lengthAdjust="spacingAndGlyphs">USDT</text>
<text x="1450.3" y="406.2" font-size="15" stroke="#131722" stroke-width="0.3" fill="#131722" textLength="38.1" lengthAdjust="spacingAndGlyphs">80.00</text>
<path d="M1439 413.7H1493a2 2 0 0 1 2 2V436.8H1439Z" fill="#fdd835"/>
<text x="1450.2" y="430.3" font-size="15" font-weight="bold" fill="#000" textLength="38.2" lengthAdjust="spacingAndGlyphs">56.14</text>
<path d="M1439 436.8H1495V456.7a2 2 0 0 1 -2 2H1439Z" fill="#7e57c2"/>
<text x="1450.2" y="452.5" font-size="15" font-weight="bold" fill="#fff" textLength="38.2" lengthAdjust="spacingAndGlyphs">43.44</text>
<text x="1450.2" y="485.4" font-size="15" stroke="#131722" stroke-width="0.3" fill="#131722" textLength="46.85" lengthAdjust="spacingAndGlyphs">100.00</text>
<g clip-path="url(#ca3)">
<path d="M1439 518.9H1493a2 2 0 0 1 2 2V540.3H1439Z" fill="#2962ff"/>
<text x="1450.2" y="535.7" font-size="15" font-weight="bold" fill="#fff" textLength="38.2" lengthAdjust="spacingAndGlyphs">19.97</text>
<path d="M1439 540.3H1493a2 2 0 0 1 2 2V562H1439Z" fill="#ff6d00"/>
<text x="1450.2" y="557.2" font-size="15" font-weight="bold" fill="#fff" textLength="38.2" lengthAdjust="spacingAndGlyphs">18.77</text>
</g>
</g>
<g id="time" clip-path="url(#ct)">
<text x="60.63" y="572.8" font-size="15" stroke="#131722" stroke-width="0.3" fill="#131722" textLength="26.3" lengthAdjust="spacingAndGlyphs">Nov</text>
<text x="139.66" y="572.8" font-size="15" font-weight="bold" fill="#131722" textLength="36.4" lengthAdjust="spacingAndGlyphs">2024</text>
<text x="239.49" y="572.8" font-size="15" stroke="#131722" stroke-width="0.3" fill="#131722" textLength="25.9" lengthAdjust="spacingAndGlyphs">Mar</text>
<text x="333.17" y="572.8" font-size="15" stroke="#131722" stroke-width="0.3" fill="#131722" textLength="27.7" lengthAdjust="spacingAndGlyphs">May</text>
<text x="420.49" y="572.8" font-size="15" stroke="#131722" stroke-width="0.3" fill="#131722" textLength="21.2" lengthAdjust="spacingAndGlyphs">Jul</text>
<text x="512.97" y="572.8" font-size="15" stroke="#131722" stroke-width="0.3" fill="#131722" textLength="25.4" lengthAdjust="spacingAndGlyphs">Sep</text>
<text x="607.1" y="572.8" font-size="15" stroke="#131722" stroke-width="0.3" fill="#131722" textLength="26.3" lengthAdjust="spacingAndGlyphs">Nov</text>
<text x="696.63" y="572.8" font-size="15" font-weight="bold" fill="#131722" textLength="36.4" lengthAdjust="spacingAndGlyphs">2025</text>
<text x="785.95" y="572.8" font-size="15" stroke="#131722" stroke-width="0.3" fill="#131722" textLength="25.9" lengthAdjust="spacingAndGlyphs">Mar</text>
<text x="879.63" y="572.8" font-size="15" stroke="#131722" stroke-width="0.3" fill="#131722" textLength="27.7" lengthAdjust="spacingAndGlyphs">May</text>
<text x="977.46" y="572.8" font-size="15" stroke="#131722" stroke-width="0.3" fill="#131722" textLength="21.2" lengthAdjust="spacingAndGlyphs">Jul</text>
<text x="1059.43" y="572.8" font-size="15" stroke="#131722" stroke-width="0.3" fill="#131722" textLength="25.4" lengthAdjust="spacingAndGlyphs">Sep</text>
<text x="1153.56" y="572.8" font-size="15" stroke="#131722" stroke-width="0.3" fill="#131722" textLength="26.3" lengthAdjust="spacingAndGlyphs">Nov</text>
<text x="1243.09" y="572.8" font-size="15" font-weight="bold" fill="#131722" textLength="36.4" lengthAdjust="spacingAndGlyphs">2026</text>
<text x="1332.41" y="572.8" font-size="15" stroke="#131722" stroke-width="0.3" fill="#131722" textLength="25.9" lengthAdjust="spacingAndGlyphs">Mar</text>
<text x="1426.09" y="572.8" font-size="15" stroke="#131722" stroke-width="0.3" fill="#131722" textLength="27.7" lengthAdjust="spacingAndGlyphs">May</text>
</g>
<g id="frame" shape-rendering="crispEdges">
<rect x="12" y="386" width="1511" height="1" fill="#e0e3eb"/>
<rect x="12" y="472" width="1511" height="1" fill="#e0e3eb"/>
<rect x="12" y="549" width="1511" height="1" fill="#f2f4f7"/>
<rect x="1438" y="35" width="1" height="549" fill="#f4f5f8"/>
<rect x="12" y="35" width="1511" height="549" fill="none" stroke="#f2f4f7" stroke-width="1"/>
</g>
<g id="logo" fill="#131722">
<path d="M15.2 613.3H30.8V632.5H23.1V621.1H15.2Z"/>
<circle cx="37.5" cy="616.5" r="3.2"/>
<path d="M45.3 613.3H53.9L45.4 632.5H37.1Z"/>
<text x="62.1" y="632.5" font-size="27" font-weight="bold" fill="#131722" textLength="156.6" lengthAdjust="spacingAndGlyphs">TradingView</text>
</g>
</svg>
</body>
</html>
